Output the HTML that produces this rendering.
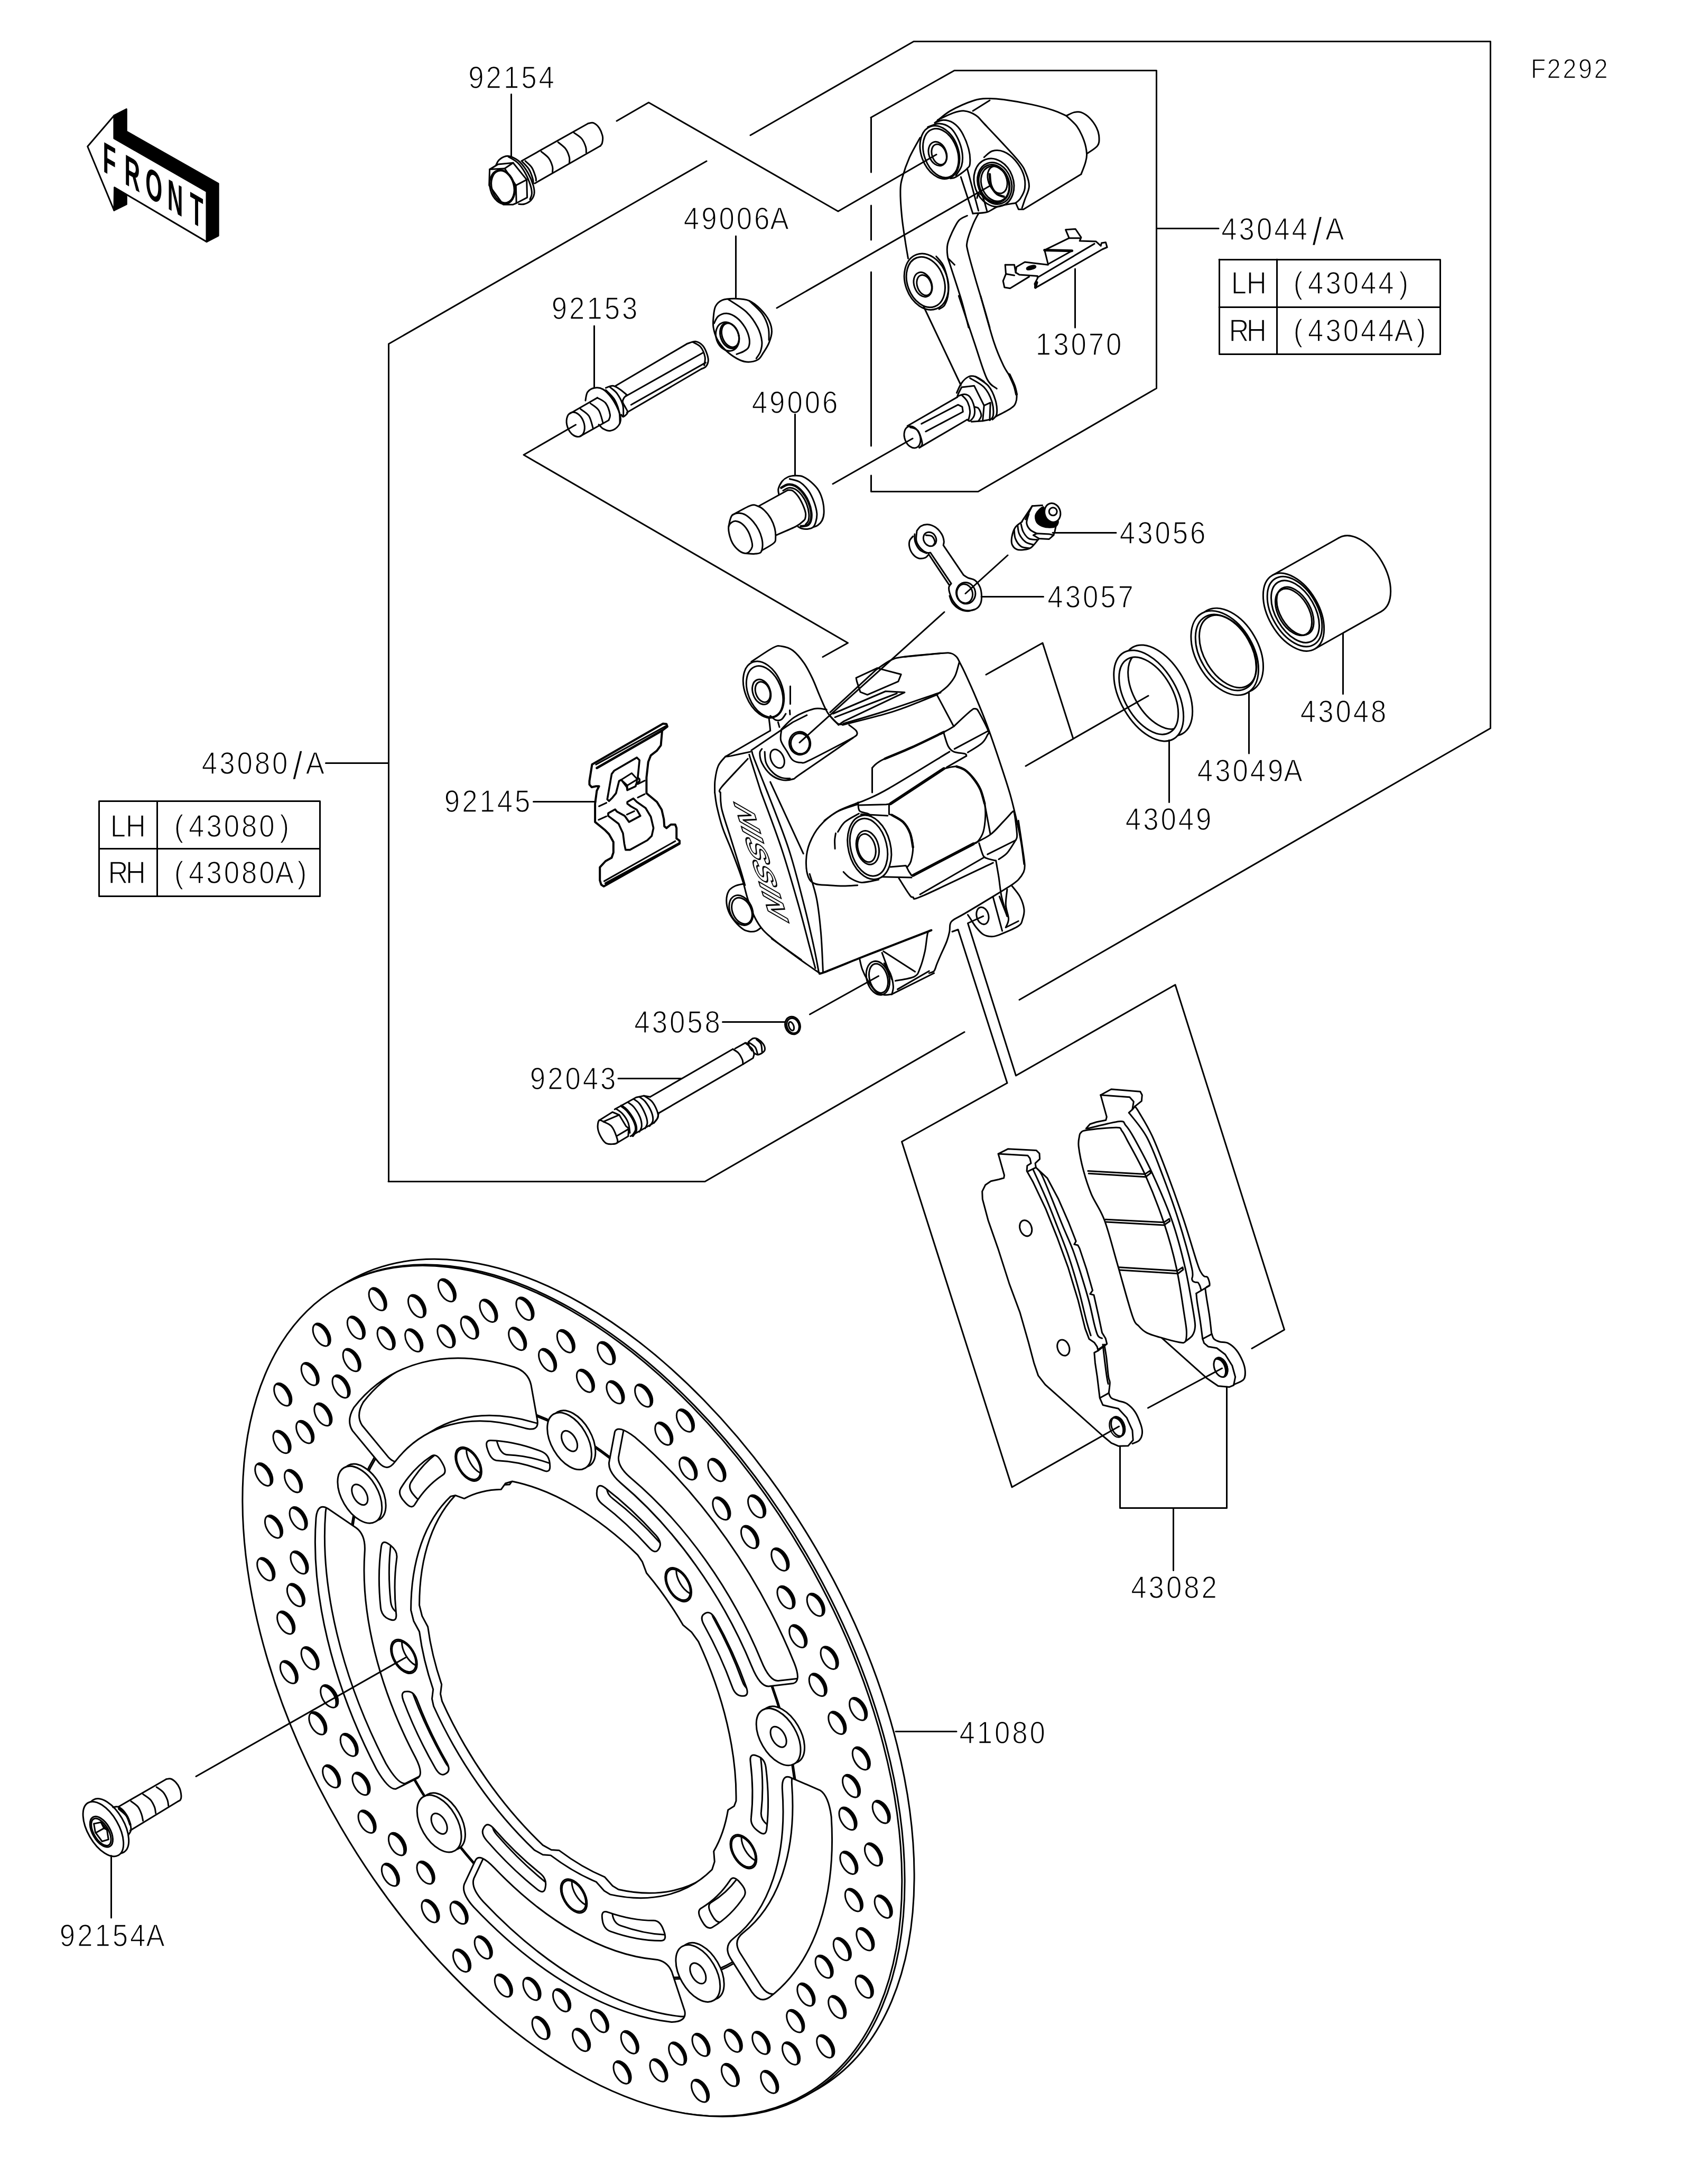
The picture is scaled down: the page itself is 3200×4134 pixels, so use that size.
<!DOCTYPE html>
<html lang="en"><head><meta charset="utf-8"><title>F2292 Front Brake</title>
<style>
html,body{margin:0;padding:0;background:#fff}
svg{display:block}
.ln{fill:none;stroke:#000;stroke-width:3;stroke-linecap:round;stroke-linejoin:round}
.t{font-family:"Liberation Sans",sans-serif;font-size:58.6px;fill:#000;stroke:#fff;stroke-width:1.5px;text-anchor:middle}
.dk path,.dk circle{vector-effect:non-scaling-stroke}
.ts{font-family:"Liberation Sans",sans-serif;font-size:52px;fill:#000;stroke:#fff;stroke-width:1.4px;text-anchor:middle}
</style></head><body>
<svg width="3200" height="4134" viewBox="0 0 3200 4134">
<rect width="3200" height="4134" fill="#fff"/>

<!-- 05_front.svg -->
<g class="ln">
<path d="M215.9,218.7 L239.3,206.6 L239.3,248.8 L413.2,347.6 L413.2,446.1 L391,457.6 L391,362.4 L215.9,262 Z" fill="#000" />
<path d="M216.6,354.7 L239.3,370.7 L239.3,386.7 L215.9,398.2 Z" fill="#000" />
<path d="M165.7,277.2 L215.9,218.7 L215.9,262 L391,362.4 L391,457.6 L216.6,354.7 L215.9,398.2 Z" fill="#fff" />
<text transform="translate(197.1,325.5) skewY(30) scale(0.5,1)" x="19.6 106.4 188.2 269.0 349.6" y="0" style="font-family:'Liberation Sans',sans-serif;font-weight:bold;font-size:82px;fill:#000;stroke:none;text-anchor:middle">FRONT</text>
</g>

<!-- 10_disc.svg -->
<g class="ln" style="vector-effect:non-scaling-stroke" transform="matrix(0.8733,0.4984,0.0043,1.007,1085.5,3200.0)">
<g class="dk">
<circle r="717.5" cx="20.71" cy="-20.58" fill="#fff"/>
<circle r="717.5" fill="#fff"/>
<clipPath id="dcf"><circle r="717.5"/></clipPath><g clip-path="url(#dcf)"><circle r="716.5" cx="-5.05" cy="3.20"/></g>
<path fill="#000" stroke="none" d="M612.2,155.0 a19,19 0 1 0 38,0 a19,19 0 1 0 -38,0 Z M587.9,93.4 a19,19 0 1 0 38,0 a19,19 0 1 0 -38,0 Z M562.1,198.4 a19,19 0 1 0 38,0 a19,19 0 1 0 -38,0 Z M609.9,245.2 a19,19 0 1 0 38,0 a19,19 0 1 0 -38,0 Z M550.6,313.1 a19,19 0 1 0 38,0 a19,19 0 1 0 -38,0 Z M522.7,250.9 a19,19 0 1 0 38,0 a19,19 0 1 0 -38,0 Z M483.1,323.0 a19,19 0 1 0 38,0 a19,19 0 1 0 -38,0 Z M525.0,399.6 a19,19 0 1 0 38,0 a19,19 0 1 0 -38,0 Z M450.1,449.9 a19,19 0 1 0 38,0 a19,19 0 1 0 -38,0 Z M459.8,384.3 a19,19 0 1 0 38,0 a19,19 0 1 0 -38,0 Z M385.0,462.3 a19,19 0 1 0 38,0 a19,19 0 1 0 -38,0 Z M403.0,526.8 a19,19 0 1 0 38,0 a19,19 0 1 0 -38,0 Z M317.7,556.0 a19,19 0 1 0 38,0 a19,19 0 1 0 -38,0 Z M324.7,488.1 a19,19 0 1 0 38,0 a19,19 0 1 0 -38,0 Z M254.4,530.7 a19,19 0 1 0 38,0 a19,19 0 1 0 -38,0 Z M252.3,618.1 a19,19 0 1 0 38,0 a19,19 0 1 0 -38,0 Z M162.3,624.2 a19,19 0 1 0 38,0 a19,19 0 1 0 -38,0 Z M203.5,572.3 a19,19 0 1 0 38,0 a19,19 0 1 0 -38,0 Z M99.7,602.4 a19,19 0 1 0 38,0 a19,19 0 1 0 -38,0 Z M83.1,667.2 a19,19 0 1 0 38,0 a19,19 0 1 0 -38,0 Z M-5.4,649.9 a19,19 0 1 0 38,0 a19,19 0 1 0 -38,0 Z M34.6,594.6 a19,19 0 1 0 38,0 a19,19 0 1 0 -38,0 Z M-47.6,596.3 a19,19 0 1 0 38,0 a19,19 0 1 0 -38,0 Z M-93.1,670.9 a19,19 0 1 0 38,0 a19,19 0 1 0 -38,0 Z M-174.0,631.2 a19,19 0 1 0 38,0 a19,19 0 1 0 -38,0 Z M-112.4,606.9 a19,19 0 1 0 38,0 a19,19 0 1 0 -38,0 Z M-217.4,581.1 a19,19 0 1 0 38,0 a19,19 0 1 0 -38,0 Z M-264.2,628.9 a19,19 0 1 0 38,0 a19,19 0 1 0 -38,0 Z M-332.1,569.6 a19,19 0 1 0 38,0 a19,19 0 1 0 -38,0 Z M-269.9,541.7 a19,19 0 1 0 38,0 a19,19 0 1 0 -38,0 Z M-342.0,502.1 a19,19 0 1 0 38,0 a19,19 0 1 0 -38,0 Z M-418.6,544.0 a19,19 0 1 0 38,0 a19,19 0 1 0 -38,0 Z M-468.9,469.1 a19,19 0 1 0 38,0 a19,19 0 1 0 -38,0 Z M-403.3,478.8 a19,19 0 1 0 38,0 a19,19 0 1 0 -38,0 Z M-481.3,404.0 a19,19 0 1 0 38,0 a19,19 0 1 0 -38,0 Z M-545.8,422.0 a19,19 0 1 0 38,0 a19,19 0 1 0 -38,0 Z M-575.0,336.7 a19,19 0 1 0 38,0 a19,19 0 1 0 -38,0 Z M-507.1,343.7 a19,19 0 1 0 38,0 a19,19 0 1 0 -38,0 Z M-549.7,273.4 a19,19 0 1 0 38,0 a19,19 0 1 0 -38,0 Z M-637.1,271.3 a19,19 0 1 0 38,0 a19,19 0 1 0 -38,0 Z M-643.2,181.3 a19,19 0 1 0 38,0 a19,19 0 1 0 -38,0 Z M-591.3,222.5 a19,19 0 1 0 38,0 a19,19 0 1 0 -38,0 Z M-621.4,118.7 a19,19 0 1 0 38,0 a19,19 0 1 0 -38,0 Z M-686.2,102.1 a19,19 0 1 0 38,0 a19,19 0 1 0 -38,0 Z M-668.9,13.6 a19,19 0 1 0 38,0 a19,19 0 1 0 -38,0 Z M-613.6,53.6 a19,19 0 1 0 38,0 a19,19 0 1 0 -38,0 Z M-615.3,-28.6 a19,19 0 1 0 38,0 a19,19 0 1 0 -38,0 Z M-689.9,-74.1 a19,19 0 1 0 38,0 a19,19 0 1 0 -38,0 Z M-650.2,-155.0 a19,19 0 1 0 38,0 a19,19 0 1 0 -38,0 Z M-625.9,-93.4 a19,19 0 1 0 38,0 a19,19 0 1 0 -38,0 Z M-600.1,-198.4 a19,19 0 1 0 38,0 a19,19 0 1 0 -38,0 Z M-647.9,-245.2 a19,19 0 1 0 38,0 a19,19 0 1 0 -38,0 Z M-588.6,-313.1 a19,19 0 1 0 38,0 a19,19 0 1 0 -38,0 Z M-560.7,-250.9 a19,19 0 1 0 38,0 a19,19 0 1 0 -38,0 Z M-521.1,-323.0 a19,19 0 1 0 38,0 a19,19 0 1 0 -38,0 Z M-563.0,-399.6 a19,19 0 1 0 38,0 a19,19 0 1 0 -38,0 Z M-488.1,-449.9 a19,19 0 1 0 38,0 a19,19 0 1 0 -38,0 Z M-497.8,-384.3 a19,19 0 1 0 38,0 a19,19 0 1 0 -38,0 Z M-423.0,-462.3 a19,19 0 1 0 38,0 a19,19 0 1 0 -38,0 Z M-441.0,-526.8 a19,19 0 1 0 38,0 a19,19 0 1 0 -38,0 Z M-355.7,-556.0 a19,19 0 1 0 38,0 a19,19 0 1 0 -38,0 Z M-362.7,-488.1 a19,19 0 1 0 38,0 a19,19 0 1 0 -38,0 Z M-292.4,-530.7 a19,19 0 1 0 38,0 a19,19 0 1 0 -38,0 Z M-290.3,-618.1 a19,19 0 1 0 38,0 a19,19 0 1 0 -38,0 Z M-200.3,-624.2 a19,19 0 1 0 38,0 a19,19 0 1 0 -38,0 Z M-241.5,-572.3 a19,19 0 1 0 38,0 a19,19 0 1 0 -38,0 Z M-137.7,-602.4 a19,19 0 1 0 38,0 a19,19 0 1 0 -38,0 Z M-121.1,-667.2 a19,19 0 1 0 38,0 a19,19 0 1 0 -38,0 Z M-32.6,-649.9 a19,19 0 1 0 38,0 a19,19 0 1 0 -38,0 Z M-72.6,-594.6 a19,19 0 1 0 38,0 a19,19 0 1 0 -38,0 Z M9.6,-596.3 a19,19 0 1 0 38,0 a19,19 0 1 0 -38,0 Z M55.1,-670.9 a19,19 0 1 0 38,0 a19,19 0 1 0 -38,0 Z M136.0,-631.2 a19,19 0 1 0 38,0 a19,19 0 1 0 -38,0 Z M74.4,-606.9 a19,19 0 1 0 38,0 a19,19 0 1 0 -38,0 Z M179.4,-581.1 a19,19 0 1 0 38,0 a19,19 0 1 0 -38,0 Z M226.2,-628.9 a19,19 0 1 0 38,0 a19,19 0 1 0 -38,0 Z M294.1,-569.6 a19,19 0 1 0 38,0 a19,19 0 1 0 -38,0 Z M231.9,-541.7 a19,19 0 1 0 38,0 a19,19 0 1 0 -38,0 Z M304.0,-502.1 a19,19 0 1 0 38,0 a19,19 0 1 0 -38,0 Z M380.6,-544.0 a19,19 0 1 0 38,0 a19,19 0 1 0 -38,0 Z M430.9,-469.1 a19,19 0 1 0 38,0 a19,19 0 1 0 -38,0 Z M365.3,-478.8 a19,19 0 1 0 38,0 a19,19 0 1 0 -38,0 Z M443.3,-404.0 a19,19 0 1 0 38,0 a19,19 0 1 0 -38,0 Z M507.8,-422.0 a19,19 0 1 0 38,0 a19,19 0 1 0 -38,0 Z M537.0,-336.7 a19,19 0 1 0 38,0 a19,19 0 1 0 -38,0 Z M469.1,-343.7 a19,19 0 1 0 38,0 a19,19 0 1 0 -38,0 Z M511.7,-273.4 a19,19 0 1 0 38,0 a19,19 0 1 0 -38,0 Z M599.1,-271.3 a19,19 0 1 0 38,0 a19,19 0 1 0 -38,0 Z M605.2,-181.3 a19,19 0 1 0 38,0 a19,19 0 1 0 -38,0 Z M553.3,-222.5 a19,19 0 1 0 38,0 a19,19 0 1 0 -38,0 Z M583.4,-118.7 a19,19 0 1 0 38,0 a19,19 0 1 0 -38,0 Z M648.2,-102.1 a19,19 0 1 0 38,0 a19,19 0 1 0 -38,0 Z M630.9,-13.6 a19,19 0 1 0 38,0 a19,19 0 1 0 -38,0 Z M575.6,-53.6 a19,19 0 1 0 38,0 a19,19 0 1 0 -38,0 Z M577.3,28.6 a19,19 0 1 0 38,0 a19,19 0 1 0 -38,0 Z M651.9,74.1 a19,19 0 1 0 38,0 a19,19 0 1 0 -38,0 Z"/>
<path fill="#fff" stroke="none" d="M606.3,161.4 a19,19 0 1 0 38,0 a19,19 0 1 0 -38,0 Z M581.9,99.7 a19,19 0 1 0 38,0 a19,19 0 1 0 -38,0 Z M556.1,204.7 a19,19 0 1 0 38,0 a19,19 0 1 0 -38,0 Z M603.9,251.5 a19,19 0 1 0 38,0 a19,19 0 1 0 -38,0 Z M544.6,319.5 a19,19 0 1 0 38,0 a19,19 0 1 0 -38,0 Z M516.7,257.2 a19,19 0 1 0 38,0 a19,19 0 1 0 -38,0 Z M477.1,329.3 a19,19 0 1 0 38,0 a19,19 0 1 0 -38,0 Z M519.0,405.9 a19,19 0 1 0 38,0 a19,19 0 1 0 -38,0 Z M444.2,456.2 a19,19 0 1 0 38,0 a19,19 0 1 0 -38,0 Z M453.9,390.7 a19,19 0 1 0 38,0 a19,19 0 1 0 -38,0 Z M379.0,468.7 a19,19 0 1 0 38,0 a19,19 0 1 0 -38,0 Z M397.1,533.1 a19,19 0 1 0 38,0 a19,19 0 1 0 -38,0 Z M311.7,562.3 a19,19 0 1 0 38,0 a19,19 0 1 0 -38,0 Z M318.7,494.5 a19,19 0 1 0 38,0 a19,19 0 1 0 -38,0 Z M248.4,537.1 a19,19 0 1 0 38,0 a19,19 0 1 0 -38,0 Z M246.3,624.4 a19,19 0 1 0 38,0 a19,19 0 1 0 -38,0 Z M156.4,630.5 a19,19 0 1 0 38,0 a19,19 0 1 0 -38,0 Z M197.6,578.6 a19,19 0 1 0 38,0 a19,19 0 1 0 -38,0 Z M93.7,608.7 a19,19 0 1 0 38,0 a19,19 0 1 0 -38,0 Z M77.1,673.6 a19,19 0 1 0 38,0 a19,19 0 1 0 -38,0 Z M-11.4,656.2 a19,19 0 1 0 38,0 a19,19 0 1 0 -38,0 Z M28.6,600.9 a19,19 0 1 0 38,0 a19,19 0 1 0 -38,0 Z M-53.6,602.7 a19,19 0 1 0 38,0 a19,19 0 1 0 -38,0 Z M-99.1,677.3 a19,19 0 1 0 38,0 a19,19 0 1 0 -38,0 Z M-180.0,637.6 a19,19 0 1 0 38,0 a19,19 0 1 0 -38,0 Z M-118.4,613.2 a19,19 0 1 0 38,0 a19,19 0 1 0 -38,0 Z M-223.4,587.4 a19,19 0 1 0 38,0 a19,19 0 1 0 -38,0 Z M-270.2,635.2 a19,19 0 1 0 38,0 a19,19 0 1 0 -38,0 Z M-338.1,575.9 a19,19 0 1 0 38,0 a19,19 0 1 0 -38,0 Z M-275.9,548.1 a19,19 0 1 0 38,0 a19,19 0 1 0 -38,0 Z M-347.9,508.4 a19,19 0 1 0 38,0 a19,19 0 1 0 -38,0 Z M-424.6,550.3 a19,19 0 1 0 38,0 a19,19 0 1 0 -38,0 Z M-474.9,475.5 a19,19 0 1 0 38,0 a19,19 0 1 0 -38,0 Z M-409.3,485.2 a19,19 0 1 0 38,0 a19,19 0 1 0 -38,0 Z M-487.3,410.4 a19,19 0 1 0 38,0 a19,19 0 1 0 -38,0 Z M-551.8,428.4 a19,19 0 1 0 38,0 a19,19 0 1 0 -38,0 Z M-581.0,343.1 a19,19 0 1 0 38,0 a19,19 0 1 0 -38,0 Z M-513.1,350.0 a19,19 0 1 0 38,0 a19,19 0 1 0 -38,0 Z M-555.7,279.7 a19,19 0 1 0 38,0 a19,19 0 1 0 -38,0 Z M-643.1,277.7 a19,19 0 1 0 38,0 a19,19 0 1 0 -38,0 Z M-649.2,187.7 a19,19 0 1 0 38,0 a19,19 0 1 0 -38,0 Z M-597.2,228.9 a19,19 0 1 0 38,0 a19,19 0 1 0 -38,0 Z M-627.4,125.1 a19,19 0 1 0 38,0 a19,19 0 1 0 -38,0 Z M-692.2,108.4 a19,19 0 1 0 38,0 a19,19 0 1 0 -38,0 Z M-674.8,20.0 a19,19 0 1 0 38,0 a19,19 0 1 0 -38,0 Z M-619.6,59.9 a19,19 0 1 0 38,0 a19,19 0 1 0 -38,0 Z M-621.3,-22.3 a19,19 0 1 0 38,0 a19,19 0 1 0 -38,0 Z M-695.9,-67.7 a19,19 0 1 0 38,0 a19,19 0 1 0 -38,0 Z M-656.2,-148.7 a19,19 0 1 0 38,0 a19,19 0 1 0 -38,0 Z M-631.8,-87.1 a19,19 0 1 0 38,0 a19,19 0 1 0 -38,0 Z M-606.1,-192.0 a19,19 0 1 0 38,0 a19,19 0 1 0 -38,0 Z M-653.9,-238.9 a19,19 0 1 0 38,0 a19,19 0 1 0 -38,0 Z M-594.6,-306.8 a19,19 0 1 0 38,0 a19,19 0 1 0 -38,0 Z M-566.7,-244.5 a19,19 0 1 0 38,0 a19,19 0 1 0 -38,0 Z M-527.1,-316.6 a19,19 0 1 0 38,0 a19,19 0 1 0 -38,0 Z M-569.0,-393.3 a19,19 0 1 0 38,0 a19,19 0 1 0 -38,0 Z M-494.1,-443.6 a19,19 0 1 0 38,0 a19,19 0 1 0 -38,0 Z M-503.8,-378.0 a19,19 0 1 0 38,0 a19,19 0 1 0 -38,0 Z M-429.0,-456.0 a19,19 0 1 0 38,0 a19,19 0 1 0 -38,0 Z M-447.0,-520.5 a19,19 0 1 0 38,0 a19,19 0 1 0 -38,0 Z M-361.7,-549.6 a19,19 0 1 0 38,0 a19,19 0 1 0 -38,0 Z M-368.7,-481.8 a19,19 0 1 0 38,0 a19,19 0 1 0 -38,0 Z M-298.3,-524.4 a19,19 0 1 0 38,0 a19,19 0 1 0 -38,0 Z M-296.3,-611.7 a19,19 0 1 0 38,0 a19,19 0 1 0 -38,0 Z M-206.3,-617.9 a19,19 0 1 0 38,0 a19,19 0 1 0 -38,0 Z M-247.5,-565.9 a19,19 0 1 0 38,0 a19,19 0 1 0 -38,0 Z M-143.7,-596.1 a19,19 0 1 0 38,0 a19,19 0 1 0 -38,0 Z M-127.1,-660.9 a19,19 0 1 0 38,0 a19,19 0 1 0 -38,0 Z M-38.6,-643.5 a19,19 0 1 0 38,0 a19,19 0 1 0 -38,0 Z M-78.6,-588.3 a19,19 0 1 0 38,0 a19,19 0 1 0 -38,0 Z M3.7,-590.0 a19,19 0 1 0 38,0 a19,19 0 1 0 -38,0 Z M49.1,-664.6 a19,19 0 1 0 38,0 a19,19 0 1 0 -38,0 Z M130.1,-624.9 a19,19 0 1 0 38,0 a19,19 0 1 0 -38,0 Z M68.4,-600.5 a19,19 0 1 0 38,0 a19,19 0 1 0 -38,0 Z M173.4,-574.7 a19,19 0 1 0 38,0 a19,19 0 1 0 -38,0 Z M220.2,-622.6 a19,19 0 1 0 38,0 a19,19 0 1 0 -38,0 Z M288.2,-563.3 a19,19 0 1 0 38,0 a19,19 0 1 0 -38,0 Z M225.9,-535.4 a19,19 0 1 0 38,0 a19,19 0 1 0 -38,0 Z M298.0,-495.8 a19,19 0 1 0 38,0 a19,19 0 1 0 -38,0 Z M374.6,-537.7 a19,19 0 1 0 38,0 a19,19 0 1 0 -38,0 Z M424.9,-462.8 a19,19 0 1 0 38,0 a19,19 0 1 0 -38,0 Z M359.3,-472.5 a19,19 0 1 0 38,0 a19,19 0 1 0 -38,0 Z M437.3,-397.7 a19,19 0 1 0 38,0 a19,19 0 1 0 -38,0 Z M501.8,-415.7 a19,19 0 1 0 38,0 a19,19 0 1 0 -38,0 Z M531.0,-330.4 a19,19 0 1 0 38,0 a19,19 0 1 0 -38,0 Z M463.1,-337.4 a19,19 0 1 0 38,0 a19,19 0 1 0 -38,0 Z M505.8,-267.0 a19,19 0 1 0 38,0 a19,19 0 1 0 -38,0 Z M593.1,-265.0 a19,19 0 1 0 38,0 a19,19 0 1 0 -38,0 Z M599.2,-175.0 a19,19 0 1 0 38,0 a19,19 0 1 0 -38,0 Z M547.3,-216.2 a19,19 0 1 0 38,0 a19,19 0 1 0 -38,0 Z M577.4,-112.4 a19,19 0 1 0 38,0 a19,19 0 1 0 -38,0 Z M642.2,-95.8 a19,19 0 1 0 38,0 a19,19 0 1 0 -38,0 Z M624.9,-7.3 a19,19 0 1 0 38,0 a19,19 0 1 0 -38,0 Z M569.6,-47.2 a19,19 0 1 0 38,0 a19,19 0 1 0 -38,0 Z M571.3,35.0 a19,19 0 1 0 38,0 a19,19 0 1 0 -38,0 Z M645.9,80.4 a19,19 0 1 0 38,0 a19,19 0 1 0 -38,0 Z"/>
<path d="M612.2,155.0 a19,19 0 1 0 38,0 a19,19 0 1 0 -38,0 Z M587.9,93.4 a19,19 0 1 0 38,0 a19,19 0 1 0 -38,0 Z M562.1,198.4 a19,19 0 1 0 38,0 a19,19 0 1 0 -38,0 Z M609.9,245.2 a19,19 0 1 0 38,0 a19,19 0 1 0 -38,0 Z M550.6,313.1 a19,19 0 1 0 38,0 a19,19 0 1 0 -38,0 Z M522.7,250.9 a19,19 0 1 0 38,0 a19,19 0 1 0 -38,0 Z M483.1,323.0 a19,19 0 1 0 38,0 a19,19 0 1 0 -38,0 Z M525.0,399.6 a19,19 0 1 0 38,0 a19,19 0 1 0 -38,0 Z M450.1,449.9 a19,19 0 1 0 38,0 a19,19 0 1 0 -38,0 Z M459.8,384.3 a19,19 0 1 0 38,0 a19,19 0 1 0 -38,0 Z M385.0,462.3 a19,19 0 1 0 38,0 a19,19 0 1 0 -38,0 Z M403.0,526.8 a19,19 0 1 0 38,0 a19,19 0 1 0 -38,0 Z M317.7,556.0 a19,19 0 1 0 38,0 a19,19 0 1 0 -38,0 Z M324.7,488.1 a19,19 0 1 0 38,0 a19,19 0 1 0 -38,0 Z M254.4,530.7 a19,19 0 1 0 38,0 a19,19 0 1 0 -38,0 Z M252.3,618.1 a19,19 0 1 0 38,0 a19,19 0 1 0 -38,0 Z M162.3,624.2 a19,19 0 1 0 38,0 a19,19 0 1 0 -38,0 Z M203.5,572.3 a19,19 0 1 0 38,0 a19,19 0 1 0 -38,0 Z M99.7,602.4 a19,19 0 1 0 38,0 a19,19 0 1 0 -38,0 Z M83.1,667.2 a19,19 0 1 0 38,0 a19,19 0 1 0 -38,0 Z M-5.4,649.9 a19,19 0 1 0 38,0 a19,19 0 1 0 -38,0 Z M34.6,594.6 a19,19 0 1 0 38,0 a19,19 0 1 0 -38,0 Z M-47.6,596.3 a19,19 0 1 0 38,0 a19,19 0 1 0 -38,0 Z M-93.1,670.9 a19,19 0 1 0 38,0 a19,19 0 1 0 -38,0 Z M-174.0,631.2 a19,19 0 1 0 38,0 a19,19 0 1 0 -38,0 Z M-112.4,606.9 a19,19 0 1 0 38,0 a19,19 0 1 0 -38,0 Z M-217.4,581.1 a19,19 0 1 0 38,0 a19,19 0 1 0 -38,0 Z M-264.2,628.9 a19,19 0 1 0 38,0 a19,19 0 1 0 -38,0 Z M-332.1,569.6 a19,19 0 1 0 38,0 a19,19 0 1 0 -38,0 Z M-269.9,541.7 a19,19 0 1 0 38,0 a19,19 0 1 0 -38,0 Z M-342.0,502.1 a19,19 0 1 0 38,0 a19,19 0 1 0 -38,0 Z M-418.6,544.0 a19,19 0 1 0 38,0 a19,19 0 1 0 -38,0 Z M-468.9,469.1 a19,19 0 1 0 38,0 a19,19 0 1 0 -38,0 Z M-403.3,478.8 a19,19 0 1 0 38,0 a19,19 0 1 0 -38,0 Z M-481.3,404.0 a19,19 0 1 0 38,0 a19,19 0 1 0 -38,0 Z M-545.8,422.0 a19,19 0 1 0 38,0 a19,19 0 1 0 -38,0 Z M-575.0,336.7 a19,19 0 1 0 38,0 a19,19 0 1 0 -38,0 Z M-507.1,343.7 a19,19 0 1 0 38,0 a19,19 0 1 0 -38,0 Z M-549.7,273.4 a19,19 0 1 0 38,0 a19,19 0 1 0 -38,0 Z M-637.1,271.3 a19,19 0 1 0 38,0 a19,19 0 1 0 -38,0 Z M-643.2,181.3 a19,19 0 1 0 38,0 a19,19 0 1 0 -38,0 Z M-591.3,222.5 a19,19 0 1 0 38,0 a19,19 0 1 0 -38,0 Z M-621.4,118.7 a19,19 0 1 0 38,0 a19,19 0 1 0 -38,0 Z M-686.2,102.1 a19,19 0 1 0 38,0 a19,19 0 1 0 -38,0 Z M-668.9,13.6 a19,19 0 1 0 38,0 a19,19 0 1 0 -38,0 Z M-613.6,53.6 a19,19 0 1 0 38,0 a19,19 0 1 0 -38,0 Z M-615.3,-28.6 a19,19 0 1 0 38,0 a19,19 0 1 0 -38,0 Z M-689.9,-74.1 a19,19 0 1 0 38,0 a19,19 0 1 0 -38,0 Z M-650.2,-155.0 a19,19 0 1 0 38,0 a19,19 0 1 0 -38,0 Z M-625.9,-93.4 a19,19 0 1 0 38,0 a19,19 0 1 0 -38,0 Z M-600.1,-198.4 a19,19 0 1 0 38,0 a19,19 0 1 0 -38,0 Z M-647.9,-245.2 a19,19 0 1 0 38,0 a19,19 0 1 0 -38,0 Z M-588.6,-313.1 a19,19 0 1 0 38,0 a19,19 0 1 0 -38,0 Z M-560.7,-250.9 a19,19 0 1 0 38,0 a19,19 0 1 0 -38,0 Z M-521.1,-323.0 a19,19 0 1 0 38,0 a19,19 0 1 0 -38,0 Z M-563.0,-399.6 a19,19 0 1 0 38,0 a19,19 0 1 0 -38,0 Z M-488.1,-449.9 a19,19 0 1 0 38,0 a19,19 0 1 0 -38,0 Z M-497.8,-384.3 a19,19 0 1 0 38,0 a19,19 0 1 0 -38,0 Z M-423.0,-462.3 a19,19 0 1 0 38,0 a19,19 0 1 0 -38,0 Z M-441.0,-526.8 a19,19 0 1 0 38,0 a19,19 0 1 0 -38,0 Z M-355.7,-556.0 a19,19 0 1 0 38,0 a19,19 0 1 0 -38,0 Z M-362.7,-488.1 a19,19 0 1 0 38,0 a19,19 0 1 0 -38,0 Z M-292.4,-530.7 a19,19 0 1 0 38,0 a19,19 0 1 0 -38,0 Z M-290.3,-618.1 a19,19 0 1 0 38,0 a19,19 0 1 0 -38,0 Z M-200.3,-624.2 a19,19 0 1 0 38,0 a19,19 0 1 0 -38,0 Z M-241.5,-572.3 a19,19 0 1 0 38,0 a19,19 0 1 0 -38,0 Z M-137.7,-602.4 a19,19 0 1 0 38,0 a19,19 0 1 0 -38,0 Z M-121.1,-667.2 a19,19 0 1 0 38,0 a19,19 0 1 0 -38,0 Z M-32.6,-649.9 a19,19 0 1 0 38,0 a19,19 0 1 0 -38,0 Z M-72.6,-594.6 a19,19 0 1 0 38,0 a19,19 0 1 0 -38,0 Z M9.6,-596.3 a19,19 0 1 0 38,0 a19,19 0 1 0 -38,0 Z M55.1,-670.9 a19,19 0 1 0 38,0 a19,19 0 1 0 -38,0 Z M136.0,-631.2 a19,19 0 1 0 38,0 a19,19 0 1 0 -38,0 Z M74.4,-606.9 a19,19 0 1 0 38,0 a19,19 0 1 0 -38,0 Z M179.4,-581.1 a19,19 0 1 0 38,0 a19,19 0 1 0 -38,0 Z M226.2,-628.9 a19,19 0 1 0 38,0 a19,19 0 1 0 -38,0 Z M294.1,-569.6 a19,19 0 1 0 38,0 a19,19 0 1 0 -38,0 Z M231.9,-541.7 a19,19 0 1 0 38,0 a19,19 0 1 0 -38,0 Z M304.0,-502.1 a19,19 0 1 0 38,0 a19,19 0 1 0 -38,0 Z M380.6,-544.0 a19,19 0 1 0 38,0 a19,19 0 1 0 -38,0 Z M430.9,-469.1 a19,19 0 1 0 38,0 a19,19 0 1 0 -38,0 Z M365.3,-478.8 a19,19 0 1 0 38,0 a19,19 0 1 0 -38,0 Z M443.3,-404.0 a19,19 0 1 0 38,0 a19,19 0 1 0 -38,0 Z M507.8,-422.0 a19,19 0 1 0 38,0 a19,19 0 1 0 -38,0 Z M537.0,-336.7 a19,19 0 1 0 38,0 a19,19 0 1 0 -38,0 Z M469.1,-343.7 a19,19 0 1 0 38,0 a19,19 0 1 0 -38,0 Z M511.7,-273.4 a19,19 0 1 0 38,0 a19,19 0 1 0 -38,0 Z M599.1,-271.3 a19,19 0 1 0 38,0 a19,19 0 1 0 -38,0 Z M605.2,-181.3 a19,19 0 1 0 38,0 a19,19 0 1 0 -38,0 Z M553.3,-222.5 a19,19 0 1 0 38,0 a19,19 0 1 0 -38,0 Z M583.4,-118.7 a19,19 0 1 0 38,0 a19,19 0 1 0 -38,0 Z M648.2,-102.1 a19,19 0 1 0 38,0 a19,19 0 1 0 -38,0 Z M630.9,-13.6 a19,19 0 1 0 38,0 a19,19 0 1 0 -38,0 Z M575.6,-53.6 a19,19 0 1 0 38,0 a19,19 0 1 0 -38,0 Z M577.3,28.6 a19,19 0 1 0 38,0 a19,19 0 1 0 -38,0 Z M651.9,74.1 a19,19 0 1 0 38,0 a19,19 0 1 0 -38,0 Z"/>
<clipPath id="dc1"><path d="M-420.1,-219.6 L-477.7,-251.8 Q-491.8,-263.7 -474.9,-296.8 A560,560 0 0 1 -126.0,-545.6 Q-96.3,-551.7 -89.7,-530.5 L-76.1,-469.9 Q-72.7,-449.1 -106.0,-441.5 A454,454 0 0 0 -387.5,-236.5 Q-402.5,-212.2 -420.1,-219.6 Z"/></clipPath><g clip-path="url(#dc1)"><path d="M-420.1,-219.6 L-477.7,-251.8 Q-491.8,-263.7 -474.9,-296.8 A560,560 0 0 1 -126.0,-545.6 Q-96.3,-551.7 -89.7,-530.5 L-76.1,-469.9 Q-72.7,-449.1 -106.0,-441.5 A454,454 0 0 0 -387.5,-236.5 Q-402.5,-212.2 -420.1,-219.6 Z" transform="translate(20.71,-20.58)"/></g><path d="M-420.1,-219.6 L-477.7,-251.8 Q-491.8,-263.7 -474.9,-296.8 A560,560 0 0 1 -126.0,-545.6 Q-96.3,-551.7 -89.7,-530.5 L-76.1,-469.9 Q-72.7,-449.1 -106.0,-441.5 A454,454 0 0 0 -387.5,-236.5 Q-402.5,-212.2 -420.1,-219.6 Z"/>
<path d="M-77.3,-477.0 A483.2,483.2 0 0 1 80.6,-476.4"/>
<path d="M-77.7,-479.7 A486,486 0 0 1 81.0,-479.2"/>
<clipPath id="dc2"><path d="M79.0,-467.4 L91.9,-532.1 Q98.8,-549.2 135.5,-543.4 A560,560 0 0 1 480.0,-288.4 Q494.9,-262.0 476.8,-249.3 L423.4,-217.6 Q404.7,-208.0 387.1,-237.2 A454,454 0 0 0 105.2,-441.6 Q77.4,-448.4 79.0,-467.4 Z"/></clipPath><g clip-path="url(#dc2)"><path d="M79.0,-467.4 L91.9,-532.1 Q98.8,-549.2 135.5,-543.4 A560,560 0 0 1 480.0,-288.4 Q494.9,-262.0 476.8,-249.3 L423.4,-217.6 Q404.7,-208.0 387.1,-237.2 A454,454 0 0 0 105.2,-441.6 Q77.4,-448.4 79.0,-467.4 Z" transform="translate(20.71,-20.58)"/></g><path d="M79.0,-467.4 L91.9,-532.1 Q98.8,-549.2 135.5,-543.4 A560,560 0 0 1 480.0,-288.4 Q494.9,-262.0 476.8,-249.3 L423.4,-217.6 Q404.7,-208.0 387.1,-237.2 A454,454 0 0 0 105.2,-441.6 Q77.4,-448.4 79.0,-467.4 Z"/>
<path d="M429.8,-220.9 A483.2,483.2 0 0 1 478.0,-70.6"/>
<path d="M432.3,-222.1 A486,486 0 0 1 480.8,-71.0"/>
<clipPath id="dc3"><path d="M468.9,-69.2 L534.5,-77.0 Q552.8,-75.7 558.6,-39.1 A560,560 0 0 1 422.6,367.4 Q402.2,389.7 384.4,376.4 L337.8,335.4 Q322.9,320.6 345.2,294.8 A454,454 0 0 0 452.5,-36.4 Q450.3,-64.9 468.9,-69.2 Z"/></clipPath><g clip-path="url(#dc3)"><path d="M468.9,-69.2 L534.5,-77.0 Q552.8,-75.7 558.6,-39.1 A560,560 0 0 1 422.6,367.4 Q402.2,389.7 384.4,376.4 L337.8,335.4 Q322.9,320.6 345.2,294.8 A454,454 0 0 0 452.5,-36.4 Q450.3,-64.9 468.9,-69.2 Z" transform="translate(20.71,-20.58)"/></g><path d="M468.9,-69.2 L534.5,-77.0 Q552.8,-75.7 558.6,-39.1 A560,560 0 0 1 422.6,367.4 Q402.2,389.7 384.4,376.4 L337.8,335.4 Q322.9,320.6 345.2,294.8 A454,454 0 0 0 452.5,-36.4 Q450.3,-64.9 468.9,-69.2 Z"/>
<path d="M342.9,340.5 A483.2,483.2 0 0 1 214.8,432.8"/>
<path d="M344.9,342.5 A486,486 0 0 1 216.1,435.3"/>
<clipPath id="dc4"><path d="M210.8,424.6 L238.4,484.5 Q242.9,502.4 209.8,519.2 A560,560 0 0 1 -218.8,515.5 Q-246.4,502.9 -239.2,481.9 L-214.6,424.9 Q-205.1,406.1 -173.7,419.4 A454,454 0 0 0 174.5,419.1 Q200.9,408.3 210.8,424.6 Z"/></clipPath><g clip-path="url(#dc4)"><path d="M210.8,424.6 L238.4,484.5 Q242.9,502.4 209.8,519.2 A560,560 0 0 1 -218.8,515.5 Q-246.4,502.9 -239.2,481.9 L-214.6,424.9 Q-205.1,406.1 -173.7,419.4 A454,454 0 0 0 174.5,419.1 Q200.9,408.3 210.8,424.6 Z" transform="translate(20.71,-20.58)"/></g><path d="M210.8,424.6 L238.4,484.5 Q242.9,502.4 209.8,519.2 A560,560 0 0 1 -218.8,515.5 Q-246.4,502.9 -239.2,481.9 L-214.6,424.9 Q-205.1,406.1 -173.7,419.4 A454,454 0 0 0 174.5,419.1 Q200.9,408.3 210.8,424.6 Z"/>
<path d="M-217.9,431.3 A483.2,483.2 0 0 1 -345.2,338.1"/>
<path d="M-219.1,433.8 A486,486 0 0 1 -347.2,340.0"/>
<clipPath id="dc5"><path d="M-338.7,331.6 L-387.1,376.5 Q-402.7,386.2 -429.0,360.0 A560,560 0 0 1 -557.9,-48.8 Q-554.4,-78.9 -532.2,-78.6 L-470.4,-72.8 Q-449.6,-69.6 -452.6,-35.6 A454,454 0 0 0 -344.7,295.5 Q-326.2,317.2 -338.7,331.6 Z"/></clipPath><g clip-path="url(#dc5)"><path d="M-338.7,331.6 L-387.1,376.5 Q-402.7,386.2 -429.0,360.0 A560,560 0 0 1 -557.9,-48.8 Q-554.4,-78.9 -532.2,-78.6 L-470.4,-72.8 Q-449.6,-69.6 -452.6,-35.6 A454,454 0 0 0 -344.7,295.5 Q-326.2,317.2 -338.7,331.6 Z" transform="translate(20.71,-20.58)"/></g><path d="M-338.7,331.6 L-387.1,376.5 Q-402.7,386.2 -429.0,360.0 A560,560 0 0 1 -557.9,-48.8 Q-554.4,-78.9 -532.2,-78.6 L-470.4,-72.8 Q-449.6,-69.6 -452.6,-35.6 A454,454 0 0 0 -344.7,295.5 Q-326.2,317.2 -338.7,331.6 Z"/>
<path d="M-477.5,-73.9 A483.2,483.2 0 0 1 -428.2,-223.9"/>
<path d="M-480.3,-74.4 A486,486 0 0 1 -430.7,-225.2"/>
<clipPath id="dc6"><path d="M-363.9,-173.2 L-366.6,-174.5 Q-380.6,-181.1 -373.7,-195.0 A421.5,421.5 0 0 1 -306.5,-289.3 Q-295.7,-300.4 -284.8,-289.3 L-282.7,-287.2 Q-271.8,-276.1 -282.7,-265.1 A387.5,387.5 0 0 0 -343.0,-180.4 Q-349.9,-166.5 -363.9,-173.2 Z"/></clipPath><g clip-path="url(#dc6)"><path d="M-363.9,-173.2 L-366.6,-174.5 Q-380.6,-181.1 -373.7,-195.0 A421.5,421.5 0 0 1 -306.5,-289.3 Q-295.7,-300.4 -284.8,-289.3 L-282.7,-287.2 Q-271.8,-276.1 -282.7,-265.1 A387.5,387.5 0 0 0 -343.0,-180.4 Q-349.9,-166.5 -363.9,-173.2 Z" transform="translate(21.86,-21.74)"/></g><path d="M-363.9,-173.2 L-366.6,-174.5 Q-380.6,-181.1 -373.7,-195.0 A421.5,421.5 0 0 1 -306.5,-289.3 Q-295.7,-300.4 -284.8,-289.3 L-282.7,-287.2 Q-271.8,-276.1 -282.7,-265.1 A387.5,387.5 0 0 0 -343.0,-180.4 Q-349.9,-166.5 -363.9,-173.2 Z"/>
<clipPath id="dc7"><path d="M-183.3,-358.9 L-184.6,-361.6 Q-191.7,-375.4 -177.8,-382.2 A421.5,421.5 0 0 1 -67.1,-416.1 Q-51.7,-418.3 -49.8,-402.9 L-49.5,-400.0 Q-47.6,-384.6 -62.9,-382.4 A387.5,387.5 0 0 0 -162.3,-351.9 Q-176.2,-345.1 -183.3,-358.9 Z"/></clipPath><g clip-path="url(#dc7)"><path d="M-183.3,-358.9 L-184.6,-361.6 Q-191.7,-375.4 -177.8,-382.2 A421.5,421.5 0 0 1 -67.1,-416.1 Q-51.7,-418.3 -49.8,-402.9 L-49.5,-400.0 Q-47.6,-384.6 -62.9,-382.4 A387.5,387.5 0 0 0 -162.3,-351.9 Q-176.2,-345.1 -183.3,-358.9 Z" transform="translate(21.86,-21.74)"/></g><path d="M-183.3,-358.9 L-184.6,-361.6 Q-191.7,-375.4 -177.8,-382.2 A421.5,421.5 0 0 1 -67.1,-416.1 Q-51.7,-418.3 -49.8,-402.9 L-49.5,-400.0 Q-47.6,-384.6 -62.9,-382.4 A387.5,387.5 0 0 0 -162.3,-351.9 Q-176.2,-345.1 -183.3,-358.9 Z"/>
<clipPath id="dc8"><path d="M-254.8,-313.7 a28.5,28.5 0 1 0 57.0,0 a28.5,28.5 0 1 0 -57.0,0 Z"/></clipPath><g clip-path="url(#dc8)"><path d="M-254.8,-313.7 a28.5,28.5 0 1 0 57.0,0 a28.5,28.5 0 1 0 -57.0,0 Z" transform="translate(24.17,-24.37)"/></g><path d="M-254.8,-313.7 a28.5,28.5 0 1 0 57.0,0 a28.5,28.5 0 1 0 -57.0,0 Z"/>
<path d="M-252.3,-313.7 a26,26 0 1 0 52,0 a26,26 0 1 0 -52,0 Z"/>
<clipPath id="dc9"><path d="M52.3,-399.6 L52.6,-402.6 Q54.7,-417.9 70.0,-415.7 A421.5,421.5 0 0 1 180.4,-380.9 Q194.3,-374.0 187.2,-360.3 L185.8,-357.6 Q178.6,-343.9 164.7,-350.7 A387.5,387.5 0 0 0 65.6,-381.9 Q50.2,-384.2 52.3,-399.6 Z"/></clipPath><g clip-path="url(#dc9)"><path d="M52.3,-399.6 L52.6,-402.6 Q54.7,-417.9 70.0,-415.7 A421.5,421.5 0 0 1 180.4,-380.9 Q194.3,-374.0 187.2,-360.3 L185.8,-357.6 Q178.6,-343.9 164.7,-350.7 A387.5,387.5 0 0 0 65.6,-381.9 Q50.2,-384.2 52.3,-399.6 Z" transform="translate(21.86,-21.74)"/></g><path d="M52.3,-399.6 L52.6,-402.6 Q54.7,-417.9 70.0,-415.7 A421.5,421.5 0 0 1 180.4,-380.9 Q194.3,-374.0 187.2,-360.3 L185.8,-357.6 Q178.6,-343.9 164.7,-350.7 A387.5,387.5 0 0 0 65.6,-381.9 Q50.2,-384.2 52.3,-399.6 Z"/>
<clipPath id="dc10"><path d="M284.7,-285.2 L286.8,-287.3 Q297.8,-298.3 308.6,-287.2 A421.5,421.5 0 0 1 375.0,-192.4 Q381.9,-178.5 367.8,-171.9 L365.1,-170.6 Q351.1,-164.1 344.2,-178.0 A387.5,387.5 0 0 0 284.5,-263.1 Q273.8,-274.2 284.7,-285.2 Z"/></clipPath><g clip-path="url(#dc10)"><path d="M284.7,-285.2 L286.8,-287.3 Q297.8,-298.3 308.6,-287.2 A421.5,421.5 0 0 1 375.0,-192.4 Q381.9,-178.5 367.8,-171.9 L365.1,-170.6 Q351.1,-164.1 344.2,-178.0 A387.5,387.5 0 0 0 284.5,-263.1 Q273.8,-274.2 284.7,-285.2 Z" transform="translate(21.86,-21.74)"/></g><path d="M284.7,-285.2 L286.8,-287.3 Q297.8,-298.3 308.6,-287.2 A421.5,421.5 0 0 1 375.0,-192.4 Q381.9,-178.5 367.8,-171.9 L365.1,-170.6 Q351.1,-164.1 344.2,-178.0 A387.5,387.5 0 0 0 284.5,-263.1 Q273.8,-274.2 284.7,-285.2 Z"/>
<clipPath id="dc11"><path d="M199.9,-312.1 a28.5,28.5 0 1 0 57.0,0 a28.5,28.5 0 1 0 -57.0,0 Z"/></clipPath><g clip-path="url(#dc11)"><path d="M199.9,-312.1 a28.5,28.5 0 1 0 57.0,0 a28.5,28.5 0 1 0 -57.0,0 Z" transform="translate(24.17,-24.37)"/></g><path d="M199.9,-312.1 a28.5,28.5 0 1 0 57.0,0 a28.5,28.5 0 1 0 -57.0,0 Z"/>
<path d="M202.4,-312.1 a26,26 0 1 0 52,0 a26,26 0 1 0 -52,0 Z"/>
<clipPath id="dc12"><path d="M396.2,-73.8 L399.1,-74.3 Q414.4,-77.2 416.9,-61.9 A421.5,421.5 0 0 1 418.0,53.9 Q415.8,69.2 400.5,66.7 L397.5,66.2 Q382.2,63.6 384.5,48.3 A387.5,387.5 0 0 0 383.5,-55.7 Q380.9,-70.9 396.2,-73.8 Z"/></clipPath><g clip-path="url(#dc12)"><path d="M396.2,-73.8 L399.1,-74.3 Q414.4,-77.2 416.9,-61.9 A421.5,421.5 0 0 1 418.0,53.9 Q415.8,69.2 400.5,66.7 L397.5,66.2 Q382.2,63.6 384.5,48.3 A387.5,387.5 0 0 0 383.5,-55.7 Q380.9,-70.9 396.2,-73.8 Z" transform="translate(21.86,-21.74)"/></g><path d="M396.2,-73.8 L399.1,-74.3 Q414.4,-77.2 416.9,-61.9 A421.5,421.5 0 0 1 418.0,53.9 Q415.8,69.2 400.5,66.7 L397.5,66.2 Q382.2,63.6 384.5,48.3 A387.5,387.5 0 0 0 383.5,-55.7 Q380.9,-70.9 396.2,-73.8 Z"/>
<clipPath id="dc13"><path d="M359.2,182.6 L361.9,184.0 Q375.7,191.0 368.4,204.7 A421.5,421.5 0 0 1 298.9,297.2 Q287.7,308.0 277.2,296.7 L275.1,294.5 Q264.5,283.2 275.6,272.4 A387.5,387.5 0 0 0 338.1,189.3 Q345.4,175.6 359.2,182.6 Z"/></clipPath><g clip-path="url(#dc13)"><path d="M359.2,182.6 L361.9,184.0 Q375.7,191.0 368.4,204.7 A421.5,421.5 0 0 1 298.9,297.2 Q287.7,308.0 277.2,296.7 L275.1,294.5 Q264.5,283.2 275.6,272.4 A387.5,387.5 0 0 0 338.1,189.3 Q345.4,175.6 359.2,182.6 Z" transform="translate(21.86,-21.74)"/></g><path d="M359.2,182.6 L361.9,184.0 Q375.7,191.0 368.4,204.7 A421.5,421.5 0 0 1 298.9,297.2 Q287.7,308.0 277.2,296.7 L275.1,294.5 Q264.5,283.2 275.6,272.4 A387.5,387.5 0 0 0 338.1,189.3 Q345.4,175.6 359.2,182.6 Z"/>
<clipPath id="dc14"><path d="M338.9,120.8 a28.5,28.5 0 1 0 57.0,0 a28.5,28.5 0 1 0 -57.0,0 Z"/></clipPath><g clip-path="url(#dc14)"><path d="M338.9,120.8 a28.5,28.5 0 1 0 57.0,0 a28.5,28.5 0 1 0 -57.0,0 Z" transform="translate(24.17,-24.37)"/></g><path d="M338.9,120.8 a28.5,28.5 0 1 0 57.0,0 a28.5,28.5 0 1 0 -57.0,0 Z"/>
<path d="M341.4,120.8 a26,26 0 1 0 52,0 a26,26 0 1 0 -52,0 Z"/>
<clipPath id="dc15"><path d="M192.6,354.0 L194.0,356.6 Q201.4,370.2 187.7,377.4 A421.5,421.5 0 0 1 77.9,414.2 Q62.7,416.8 60.4,401.5 L59.9,398.5 Q57.6,383.2 72.9,380.6 A387.5,387.5 0 0 0 171.4,347.5 Q185.2,340.4 192.6,354.0 Z"/></clipPath><g clip-path="url(#dc15)"><path d="M192.6,354.0 L194.0,356.6 Q201.4,370.2 187.7,377.4 A421.5,421.5 0 0 1 77.9,414.2 Q62.7,416.8 60.4,401.5 L59.9,398.5 Q57.6,383.2 72.9,380.6 A387.5,387.5 0 0 0 171.4,347.5 Q185.2,340.4 192.6,354.0 Z" transform="translate(21.86,-21.74)"/></g><path d="M192.6,354.0 L194.0,356.6 Q201.4,370.2 187.7,377.4 A421.5,421.5 0 0 1 77.9,414.2 Q62.7,416.8 60.4,401.5 L59.9,398.5 Q57.6,383.2 72.9,380.6 A387.5,387.5 0 0 0 171.4,347.5 Q185.2,340.4 192.6,354.0 Z"/>
<clipPath id="dc16"><path d="M-62.7,398.1 L-63.2,401.1 Q-65.6,416.4 -80.8,413.7 A421.5,421.5 0 0 1 -190.3,376.1 Q-204.0,368.8 -196.5,355.3 L-195.1,352.6 Q-187.6,339.1 -173.9,346.3 A387.5,387.5 0 0 0 -75.5,380.1 Q-60.3,382.8 -62.7,398.1 Z"/></clipPath><g clip-path="url(#dc16)"><path d="M-62.7,398.1 L-63.2,401.1 Q-65.6,416.4 -80.8,413.7 A421.5,421.5 0 0 1 -190.3,376.1 Q-204.0,368.8 -196.5,355.3 L-195.1,352.6 Q-187.6,339.1 -173.9,346.3 A387.5,387.5 0 0 0 -75.5,380.1 Q-60.3,382.8 -62.7,398.1 Z" transform="translate(21.86,-21.74)"/></g><path d="M-62.7,398.1 L-63.2,401.1 Q-65.6,416.4 -80.8,413.7 A421.5,421.5 0 0 1 -190.3,376.1 Q-204.0,368.8 -196.5,355.3 L-195.1,352.6 Q-187.6,339.1 -173.9,346.3 A387.5,387.5 0 0 0 -75.5,380.1 Q-60.3,382.8 -62.7,398.1 Z"/>
<clipPath id="dc17"><path d="M-29.9,386.8 a28.5,28.5 0 1 0 57.0,0 a28.5,28.5 0 1 0 -57.0,0 Z"/></clipPath><g clip-path="url(#dc17)"><path d="M-29.9,386.8 a28.5,28.5 0 1 0 57.0,0 a28.5,28.5 0 1 0 -57.0,0 Z" transform="translate(24.17,-24.37)"/></g><path d="M-29.9,386.8 a28.5,28.5 0 1 0 57.0,0 a28.5,28.5 0 1 0 -57.0,0 Z"/>
<path d="M-27.4,386.8 a26,26 0 1 0 52,0 a26,26 0 1 0 -52,0 Z"/>
<clipPath id="dc18"><path d="M-277.2,292.6 L-279.2,294.7 Q-289.9,306.0 -300.9,295.1 A421.5,421.5 0 0 1 -369.9,202.1 Q-377.1,188.4 -363.2,181.5 L-360.5,180.1 Q-346.6,173.2 -339.4,186.9 A387.5,387.5 0 0 0 -277.5,270.4 Q-266.5,281.3 -277.2,292.6 Z"/></clipPath><g clip-path="url(#dc18)"><path d="M-277.2,292.6 L-279.2,294.7 Q-289.9,306.0 -300.9,295.1 A421.5,421.5 0 0 1 -369.9,202.1 Q-377.1,188.4 -363.2,181.5 L-360.5,180.1 Q-346.6,173.2 -339.4,186.9 A387.5,387.5 0 0 0 -277.5,270.4 Q-266.5,281.3 -277.2,292.6 Z" transform="translate(21.86,-21.74)"/></g><path d="M-277.2,292.6 L-279.2,294.7 Q-289.9,306.0 -300.9,295.1 A421.5,421.5 0 0 1 -369.9,202.1 Q-377.1,188.4 -363.2,181.5 L-360.5,180.1 Q-346.6,173.2 -339.4,186.9 A387.5,387.5 0 0 0 -277.5,270.4 Q-266.5,281.3 -277.2,292.6 Z"/>
<clipPath id="dc19"><path d="M-398.0,63.4 L-400.9,63.9 Q-416.3,66.3 -418.4,51.0 A421.5,421.5 0 0 1 -416.5,-64.8 Q-413.8,-80.1 -398.6,-77.1 L-395.7,-76.6 Q-380.4,-73.6 -383.1,-58.3 A387.5,387.5 0 0 0 -384.8,45.6 Q-382.7,61.0 -398.0,63.4 Z"/></clipPath><g clip-path="url(#dc19)"><path d="M-398.0,63.4 L-400.9,63.9 Q-416.3,66.3 -418.4,51.0 A421.5,421.5 0 0 1 -416.5,-64.8 Q-413.8,-80.1 -398.6,-77.1 L-395.7,-76.6 Q-380.4,-73.6 -383.1,-58.3 A387.5,387.5 0 0 0 -384.8,45.6 Q-382.7,61.0 -398.0,63.4 Z" transform="translate(21.86,-21.74)"/></g><path d="M-398.0,63.4 L-400.9,63.9 Q-416.3,66.3 -418.4,51.0 A421.5,421.5 0 0 1 -416.5,-64.8 Q-413.8,-80.1 -398.6,-77.1 L-395.7,-76.6 Q-380.4,-73.6 -383.1,-58.3 A387.5,387.5 0 0 0 -384.8,45.6 Q-382.7,61.0 -398.0,63.4 Z"/>
<clipPath id="dc20"><path d="M-396.8,118.2 a28.5,28.5 0 1 0 57.0,0 a28.5,28.5 0 1 0 -57.0,0 Z"/></clipPath><g clip-path="url(#dc20)"><path d="M-396.8,118.2 a28.5,28.5 0 1 0 57.0,0 a28.5,28.5 0 1 0 -57.0,0 Z" transform="translate(24.17,-24.37)"/></g><path d="M-396.8,118.2 a28.5,28.5 0 1 0 57.0,0 a28.5,28.5 0 1 0 -57.0,0 Z"/>
<path d="M-394.3,118.2 a26,26 0 1 0 52,0 a26,26 0 1 0 -52,0 Z"/>
<clipPath id="dc21"><path d="M-265.2,-233.8 L-254.7,-240.8 L-235.8,-244.2 A339,339 0 0 1 -155.5,-301.2 L-146.0,-317.3 L-131.3,-328.2 A428,428 0 0 1 140.4,-324.4 L140.4,-324.4 L150.3,-316.6 L159.4,-299.8 A339,339 0 0 1 238.5,-241.0 L256.7,-236.9 L271.6,-226.3 A428,428 0 0 1 351.9,33.3 L351.9,33.3 L347.6,45.1 L334.3,59.0 A339,339 0 0 1 302.9,152.3 L304.6,170.9 L299.1,188.4 A428,428 0 0 1 77.1,345.0 L77.1,345.0 L64.5,344.5 L47.2,336.2 A339,339 0 0 1 -51.3,335.1 L-68.4,342.5 L-86.7,342.7 A428,428 0 0 1 -304.3,179.9 L-304.3,179.9 L-307.7,167.8 L-305.1,148.8 A339,339 0 0 1 -334.5,54.8 L-346.9,40.8 L-352.7,23.4 A428,428 0 0 1 -265.2,-233.8 Z"/></clipPath><g clip-path="url(#dc21)"><path d="M-265.2,-233.8 L-254.7,-240.8 L-235.8,-244.2 A339,339 0 0 1 -155.5,-301.2 L-146.0,-317.3 L-131.3,-328.2 A428,428 0 0 1 140.4,-324.4 L140.4,-324.4 L150.3,-316.6 L159.4,-299.8 A339,339 0 0 1 238.5,-241.0 L256.7,-236.9 L271.6,-226.3 A428,428 0 0 1 351.9,33.3 L351.9,33.3 L347.6,45.1 L334.3,59.0 A339,339 0 0 1 302.9,152.3 L304.6,170.9 L299.1,188.4 A428,428 0 0 1 77.1,345.0 L77.1,345.0 L64.5,344.5 L47.2,336.2 A339,339 0 0 1 -51.3,335.1 L-68.4,342.5 L-86.7,342.7 A428,428 0 0 1 -304.3,179.9 L-304.3,179.9 L-307.7,167.8 L-305.1,148.8 A339,339 0 0 1 -334.5,54.8 L-346.9,40.8 L-352.7,23.4 A428,428 0 0 1 -265.2,-233.8 Z" transform="translate(18.41,-18.35)"/></g><path d="M-265.2,-233.8 L-254.7,-240.8 L-235.8,-244.2 A339,339 0 0 1 -155.5,-301.2 L-146.0,-317.3 L-131.3,-328.2 A428,428 0 0 1 140.4,-324.4 L140.4,-324.4 L150.3,-316.6 L159.4,-299.8 A339,339 0 0 1 238.5,-241.0 L256.7,-236.9 L271.6,-226.3 A428,428 0 0 1 351.9,33.3 L351.9,33.3 L347.6,45.1 L334.3,59.0 A339,339 0 0 1 302.9,152.3 L304.6,170.9 L299.1,188.4 A428,428 0 0 1 77.1,345.0 L77.1,345.0 L64.5,344.5 L47.2,336.2 A339,339 0 0 1 -51.3,335.1 L-68.4,342.5 L-86.7,342.7 A428,428 0 0 1 -304.3,179.9 L-304.3,179.9 L-307.7,167.8 L-305.1,148.8 A339,339 0 0 1 -334.5,54.8 L-346.9,40.8 L-352.7,23.4 A428,428 0 0 1 -265.2,-233.8 Z"/>
<circle cx="1.7" cy="-473.8" r="48" fill="#fff"/>
<circle cx="-6.8" cy="-465.6" r="48" fill="#fff"/>
<circle cx="-6.8" cy="-465.6" r="17.3"/>
<circle cx="453.1" cy="-141.0" r="48" fill="#fff"/>
<circle cx="444.5" cy="-132.9" r="48" fill="#fff"/>
<circle cx="444.5" cy="-132.9" r="17.3"/>
<circle cx="276.1" cy="391.0" r="48" fill="#fff"/>
<circle cx="267.5" cy="399.2" r="48" fill="#fff"/>
<circle cx="267.5" cy="399.2" r="17.3"/>
<circle cx="-284.7" cy="387.1" r="48" fill="#fff"/>
<circle cx="-293.2" cy="395.3" r="48" fill="#fff"/>
<circle cx="-293.2" cy="395.3" r="17.3"/>
<circle cx="-454.2" cy="-147.4" r="48" fill="#fff"/>
<circle cx="-462.7" cy="-139.2" r="48" fill="#fff"/>
<circle cx="-462.7" cy="-139.2" r="17.3"/>
</g></g>
<!-- 30_pads.svg -->
<g class="ln">
<path d="M1889.1,2184.1 L1907.7,2174.7 L1960.9,2177.4 L1967,2183.3 L1967.6,2193.9 L1959.1,2201.9 L1960.4,2209.9 L1943.9,2217.9" />
<path d="M1963.1,2212.5 L1981.7,2229.8 L2003,2269.8 L2021.6,2312.3 L2036.2,2349.6 L2032.8,2355.4 L2039.7,2357 L2042.9,2362.9 L2056.2,2402.8 L2067.6,2442.7 L2062.8,2449.4 L2070,2451.2 L2078.8,2490.6 L2085.5,2522.6 L2092.1,2533.2 L2094.8,2543.8 L2078,2556.6" />
<path d="M1960.4,2209.9 C1962.2,2212.1 1966.2,2213.6 1971,2223.2 C1975.9,2232.7 1983,2250.9 1989.7,2267.1 C1996.3,2283.3 2004.2,2303.9 2011,2320.3 C2017.7,2336.7 2024.3,2350 2030.1,2365.6 C2036,2381.1 2040.9,2397 2046.1,2413.5 C2051.2,2429.9 2056.9,2448.5 2061,2464 C2065.1,2479.5 2068.1,2495.9 2070.8,2506.6 C2073.6,2517.2 2075,2523.4 2077.5,2527.9 C2079.9,2532.3 2084.1,2532.3 2085.5,2533.2" />
<path d="M1955.1,2213.9 C1959.1,2222.7 1971.5,2249.3 1979,2267.1 C1986.6,2284.8 1993.2,2302.1 2000.3,2320.3 C2007.4,2338.5 2014.9,2356.7 2021.6,2376.2 C2028.3,2395.7 2034.5,2416.6 2040.2,2437.4 C2046,2458.2 2052.2,2486.2 2056.2,2501.3 C2060.2,2516.3 2062.8,2523.4 2064.2,2527.9" />
<path d="M2098.2,2636.9 C2099,2638.4 2100,2643.8 2103,2646.2 C2106,2648.6 2111.4,2649.7 2116.3,2651.5 C2121.2,2653.3 2126.9,2653.3 2132.2,2656.8 C2137.6,2660.4 2143.8,2666.2 2148.2,2672.8 C2152.6,2679.5 2156.6,2690.1 2158.9,2696.8 C2161.1,2703.4 2162,2707.8 2161.5,2712.7 C2161.1,2717.6 2159.3,2722.7 2156.2,2726 C2153.1,2729.4 2145.1,2731.6 2142.9,2732.7" />
<path d="M2081.2,2646.2 L2098.2,2636.9" />
<path d="M2089.7,2545.1 C2090.3,2549.1 2092.3,2558.8 2093.7,2569 C2095,2579.2 2096.5,2598.3 2097.7,2606.3 C2098.8,2614.3 2100.2,2611.8 2100.3,2616.9 C2100.4,2622 2098.5,2633.6 2098.2,2636.9" />
<path d="M2070.2,2559.7 L2092.3,2545.1" />
<path d="M2087,2545.1 C2087.5,2549.1 2088.4,2558.8 2089.7,2569 C2090.9,2579.2 2093.2,2597.9 2094.5,2606.3 C2095.7,2614.7 2096.7,2617.4 2097.1,2619.6" />
<path d="M1889.1,2184.1 L1945,2187.3 L1949,2192.6 L1951.1,2201.9 L1943.9,2206.4 L1943.1,2216.5 L1955.1,2237.8 L1979,2288.4 L2000.3,2341.6 L2021.6,2400.1 L2040.2,2461.4 L2053.5,2514.6 L2061,2534.5 L2070.8,2541.2 L2076.2,2549.2 L2078,2556.6 L2070.8,2560.3 L2072.4,2579.7 L2076.4,2606.3 L2081.2,2646.2 L2087,2659.5 L2100.3,2662.7 L2116.3,2666.2 L2132.2,2683.5 L2142.9,2707.4 L2144.2,2726 L2134.9,2736.7 L2116.3,2737.2 L2103,2731.4 L2087,2718 L2036.4,2672.8 L1977.9,2620.9 L1964.6,2603.6 L1956.6,2579.7 L1946,2539.8 L1930,2483.9 L1909.8,2429.4 L1888.5,2362.9 L1869.9,2309.7 L1859.3,2269.8 L1858.7,2255.1 L1864.6,2243.1 L1875.2,2235.7 L1889.9,2232.5 L1899.7,2229.8 L1900.5,2224.5 Z" fill="#fff" />
<ellipse cx="1941.2" cy="2324.8" rx="11" ry="15.5" transform="rotate(-20 1941.2 2324.8)" />
<ellipse cx="2012.3" cy="2551" rx="11" ry="15.5" transform="rotate(-20 2012.3 2551)" />
<ellipse cx="2115.7" cy="2700" rx="12" ry="19" transform="rotate(-20 2115.7 2700)" fill="#000"/>
<ellipse cx="2112.7" cy="2702" rx="12" ry="19" transform="rotate(-20 2112.7 2702)" fill="#fff"/>
<g stroke="none"><ellipse cx="2112.2" cy="2702.3" rx="10.5" ry="17.5" transform="rotate(-20 2112.2 2702.3)" fill="#fff"/></g>
<ellipse cx="2115.7" cy="2700" rx="12" ry="19" transform="rotate(-20 2115.7 2700)" />
<path d="M2082.8,2072.7 L2102.8,2061.7 L2157.8,2066.2 L2161.3,2072.7 L2160.3,2084.2 L2147.8,2094.2" />
<path d="M2147.8,2094.2 C2149,2096 2149.9,2095.8 2155.3,2105.2 C2160.7,2114.5 2171.1,2130.2 2180.3,2150.2 C2189.5,2170.2 2200.3,2198.6 2210.3,2225.3 C2220.3,2251.9 2231.2,2282.8 2240.4,2310.3 C2249.5,2337.8 2260,2374 2265.4,2390.4 C2270.8,2406.7 2270.5,2404.1 2272.7,2408.4 C2274.9,2412.6 2276.7,2414.3 2278.6,2415.7 C2280.6,2417.2 2283.1,2416 2284.5,2417.2 C2286,2418.5 2286.8,2420.7 2287.5,2423.1 C2288.2,2425.6 2289.7,2429.8 2289,2432 C2288.2,2434.2 2284,2435.7 2283.1,2436.4" />
<path d="M2082.8,2072.7 L2137.8,2076.7 L2145.3,2085.2 L2142.8,2100.2 L2136.3,2106.2" />
<path d="M2082.8,2072.7 L2094.3,2114.2 L2092.8,2120.2 L2075.3,2123.7 L2062.7,2127.7 L2055.2,2136.2" />
<path d="M2136.3,2106.2 C2142,2113.9 2159.6,2132.9 2170.3,2152.7 C2181,2172.6 2190.3,2199 2200.3,2225.3 C2210.3,2251.5 2221.2,2281.1 2230.3,2310.3 C2239.5,2339.5 2251.1,2381.8 2255.4,2400.4 C2259.6,2418.9 2254.8,2417.2 2255.7,2421.7 C2256.6,2426.1 2259,2425.9 2260.9,2426.8 C2262.7,2427.8 2265.2,2426.5 2266.8,2427.6 C2268.4,2428.7 2269.5,2431.3 2270.5,2433.5 C2271.5,2435.7 2272.3,2439.6 2272.7,2440.9" />
<path d="M2263.8,2448.3 L2289,2433.5" />
<path d="M2263.8,2448.3 C2264.1,2450.7 2264.1,2454.4 2265.3,2463.1 C2266.5,2471.7 2269.5,2488.2 2271.2,2500 C2273,2511.8 2274.9,2528.4 2275.7,2534" />
<path d="M2280.8,2439.4 C2281.2,2442.1 2281.7,2446.8 2283.1,2455.7 C2284.4,2464.5 2287.4,2481 2289,2492.6 C2290.6,2504.2 2292.1,2519.7 2292.7,2525.2" />
<path d="M2142.8,2100.2 L2147.8,2094.2" />
<path d="M2275.9,2534.4 L2293.2,2525.1" />
<path d="M2293.2,2525.1 C2293.9,2526.7 2294.8,2532 2297.2,2534.4 C2299.7,2536.9 2303.4,2538.4 2307.9,2539.8 C2312.3,2541.1 2318.5,2539.8 2323.8,2542.4 C2329.2,2545.1 2335.2,2550 2339.8,2555.7 C2344.5,2561.5 2349,2570.4 2351.8,2577 C2354.5,2583.7 2356.1,2589.9 2356.3,2595.6 C2356.5,2601.4 2356.8,2607.4 2353.1,2611.6 C2349.5,2615.8 2337.6,2619.4 2334.5,2620.9" />
<path d="M2275.9,2534.4 L2278.6,2542.4 L2286.6,2549.1 L2302.6,2551.7 L2318.5,2563.7 L2331.8,2585 L2337.7,2606.3 L2334.5,2622.2 L2326.5,2625.4 L2305.2,2623.6 L2283.9,2608.9 L2196.1,2530.4" />
<ellipse cx="2310" cy="2588.2" rx="12" ry="19" transform="rotate(-20 2310 2588.2)" fill="#000"/>
<g stroke="none"><ellipse cx="2306.5" cy="2590.5" rx="10.5" ry="17.5" transform="rotate(-20 2306.5 2590.5)" fill="#fff"/></g>
<ellipse cx="2310" cy="2588.2" rx="12" ry="19" transform="rotate(-20 2310 2588.2)" />
<path d="M2057.7,2136.2 C2067.8,2134 2105.7,2123.7 2117.8,2122.7 C2129.9,2121.7 2125.7,2125.2 2130.3,2130.2 C2134.9,2135.2 2137,2137.7 2145.3,2152.7 C2153.6,2167.7 2168.2,2194 2180.3,2220.3 C2192.4,2246.5 2207.4,2280.3 2217.8,2310.3 C2228.3,2340.3 2235.9,2370.3 2242.9,2400.4 C2249.8,2430.4 2256.3,2471.7 2259.4,2490.4 C2262.5,2509.2 2261.9,2506.7 2261.4,2512.9 C2260.9,2519.2 2259.4,2523.5 2256.4,2527.9 C2253.3,2532.4 2245.1,2537.5 2242.9,2539.4" />
<path d="M2042.7,2150.2 C2043.4,2145.9 2043,2146 2045.2,2144.2 C2047.5,2142.4 2045,2140.9 2056.2,2139.2 C2067.5,2137.5 2101.7,2134 2112.8,2134.2 C2123.9,2134.4 2119.4,2136.3 2122.8,2140.2 C2126.1,2144.1 2125.3,2143.5 2132.8,2157.7 C2140.3,2171.9 2156.1,2199 2167.8,2225.3 C2179.5,2251.5 2193.1,2286.1 2202.8,2315.3 C2212.6,2344.5 2219.9,2371.2 2226.3,2400.4 C2232.8,2429.5 2238.2,2470.4 2241.4,2490.4 C2244.5,2510.4 2245.1,2512.3 2245.4,2520.4 C2245.6,2528.6 2245.4,2536.1 2242.9,2539.4 C2240.4,2542.8 2238.3,2541.8 2230.3,2540.4 C2222.4,2539.1 2205.3,2534.4 2195.3,2531.4 C2185.3,2528.5 2177,2526.4 2170.3,2522.9 C2163.6,2519.4 2159.9,2515.8 2155.3,2510.4 C2150.7,2505 2149.5,2509.6 2142.8,2490.4 C2136.1,2471.2 2124,2425.4 2115.3,2395.4 C2106.5,2365.3 2098.6,2332.8 2090.3,2310.3 C2081.9,2287.8 2071.9,2276.1 2065.2,2260.3 C2058.6,2244.4 2054.2,2230.3 2050.2,2215.2 C2046.2,2200.2 2042.5,2181.1 2041.2,2170.2 C2040,2159.4 2042.1,2154.5 2042.7,2150.2 Z" fill="#fff" />
<path d="M2058.9,2216.5 L2166.6,2222.4 L2176.7,2215.7 L2177.8,2220.3 L2168,2227.7 L2060.2,2221.3" />
<path d="M2092.1,2308.3 L2202.6,2313.7 L2212.7,2307 L2213.7,2311.5 L2202.6,2319 L2093.5,2312.9" />
<path d="M2117.4,2398.8 L2227.8,2405.5 L2238,2398.8 L2239,2403.3 L2229.2,2410.8 L2118.7,2404.1" />
</g>

<!-- 40_caliper.svg -->
<g class="ln">
<path d="M1421.8,1252.6 C1428.7,1248.1 1453.5,1230.8 1463.1,1226 C1472.6,1221.1 1472.8,1222.4 1479,1223.3 C1485.2,1224.2 1493.2,1226 1500.3,1231.3 C1507.4,1236.6 1515.4,1246.4 1521.6,1255.2 C1527.8,1264.1 1532.7,1274.3 1537.6,1284.5 C1542.4,1294.7 1546.9,1307.1 1550.9,1316.4 C1554.9,1325.8 1558.4,1334.2 1561.5,1340.4 C1564.6,1346.6 1565.5,1348.8 1569.5,1353.7 C1573.5,1358.6 1581,1366.8 1585.5,1369.7 C1589.9,1372.6 1594.3,1370.8 1596.1,1371" />
<ellipse cx="1445" cy="1305.3" rx="35.1" ry="55.9" transform="rotate(-22 1445 1305.3)" />
<ellipse cx="1447.1" cy="1309" rx="31.4" ry="50.6" transform="rotate(-22 1447.1 1309)" />
<ellipse cx="1441.2" cy="1309.8" rx="16.5" ry="24.5" transform="rotate(-20 1441.2 1309.8)" />
<ellipse cx="1443.4" cy="1309.8" rx="13.3" ry="20" transform="rotate(-20 1443.4 1309.8)" />
<path d="M1495.5,1299.1 L1495.5,1332.4" />
<path d="M1494.5,1344.4 L1495,1352.4" />
<path d="M1455.1,1359 C1455.3,1361.2 1456.2,1368.3 1456.7,1372.3 C1457.1,1376.3 1457.6,1381.2 1457.7,1383" />
<path d="M1472.4,1367 L1475,1376.3" />
<path d="M1457.7,1355 C1459.5,1356.4 1464.8,1361.9 1468.4,1363 C1471.9,1364.1 1475.9,1363.7 1479,1361.7 C1482.1,1359.7 1485.7,1352.8 1487,1351" />
<path d="M1372.6,1432.2 L1457.7,1383" />
<path d="M1421.8,1420.2 L1500.3,1367 L1526.9,1353.7" />
<path d="M1372.6,1432.2 C1370.4,1435.1 1362.5,1442.2 1359.3,1449.5 C1356,1456.8 1354.3,1467.7 1353.2,1476.1 C1352,1484.5 1352.7,1496.1 1352.6,1500.1" />
<path d="M1352.6,1500 C1353.3,1504.4 1354.2,1515.5 1356.6,1526.6 C1359.1,1537.7 1362.8,1553.2 1367.3,1566.5 C1371.7,1579.8 1377.9,1592.7 1383.2,1606.4 C1388.5,1620.2 1395.2,1637.9 1399.2,1649 C1403.2,1660.1 1404.5,1664.1 1407.2,1673 C1409.8,1681.8 1411.6,1691.6 1415.2,1702.2 C1418.7,1712.9 1423.6,1727.1 1428.5,1736.8 C1433.3,1746.6 1437.8,1753.3 1444.4,1760.8 C1451.1,1768.3 1457.3,1773.2 1468.4,1782.1 C1479.5,1791 1497.2,1804 1511,1814 C1524.7,1824 1544.2,1837.3 1550.9,1842" />
<path d="M1420.5,1422.9 C1414.3,1424.2 1391.2,1429.3 1383.2,1430.9 C1375.2,1432.4 1374.4,1432 1372.6,1432.2" />
<path d="M1415.2,1436.2 C1407,1445.1 1374.6,1478.8 1365.9,1489.4 C1357.2,1500.1 1363.5,1498.3 1363,1500.1" />
<path d="M1363.3,1500 C1363.7,1505.3 1362.6,1517.3 1365.9,1531.9 C1369.3,1546.6 1377.5,1569.2 1383.2,1587.8 C1389,1606.4 1396.1,1629.1 1400.5,1643.7 C1405,1658.3 1408.3,1670.3 1409.8,1675.6" />
<path d="M1460.4,1776.8 L1516.3,1816.7" />
<path d="M1417.8,1428.2 C1418.5,1430.4 1418,1429.5 1421.8,1441.5 C1425.6,1453.5 1437.3,1490.3 1440.4,1500.1" />
<path d="M1423.1,1422.9 C1423.8,1425.1 1422.3,1423.3 1427.1,1436.2 C1432,1449.1 1448.2,1489.4 1452.4,1500.1" />
<path d="M1440.4,1500 C1446.9,1517.7 1467.3,1571 1479,1606.4 C1490.8,1641.9 1502.1,1681.8 1511,1712.9 C1519.8,1743.9 1526.9,1772.8 1532.2,1792.7 C1537.6,1812.7 1541.1,1826 1542.9,1832.6" />
<path d="M1452.4,1500 C1459.1,1517.7 1480.8,1571 1492.3,1606.4 C1503.9,1641.9 1513.6,1681.8 1521.6,1712.9 C1529.6,1743.9 1535.6,1771.4 1540.2,1792.7 C1544.9,1814 1548,1832.6 1549.5,1840.6" />
<path d="M1457.7,1480.1 L1520.3,1615.8" />
<path d="M1532.2,1654.3 C1534.5,1662.3 1542,1683.6 1545.6,1702.2 C1549.1,1720.9 1551.5,1743.1 1553.5,1766.1 C1555.5,1789.2 1556.9,1828.2 1557.5,1840.6" />
<path d="M1479,1380.3 C1483,1376.5 1492.8,1364.1 1503,1357.7 C1513.2,1351.3 1530,1344.2 1540.2,1341.7 C1550.4,1339.3 1560.2,1342.8 1564.2,1343.1" />
<path d="M1606.8,1372.3 C1609,1374.1 1617.6,1379.9 1620.1,1383 C1622.5,1386.1 1622.7,1388.5 1621.4,1391 C1620.1,1393.4 1613.6,1396.5 1612.1,1397.6" />
<path d="M1612.1,1397.6 C1598.8,1404.5 1548.2,1431.2 1532.2,1438.9 C1516.3,1446.5 1521.6,1443.6 1516.3,1443.6 C1511,1443.6 1504.7,1442.3 1500.3,1438.9 C1495.9,1435.4 1493.4,1429.1 1489.7,1422.9 C1485.9,1416.7 1479.5,1408.7 1477.7,1401.6 C1475.9,1394.5 1478.8,1383.9 1479,1380.3" />
<path d="M1614.7,1396.3 C1598.3,1407.6 1535.4,1451.1 1516.3,1464.1 C1497.2,1477.2 1506.5,1472.8 1500.3,1474.8 C1494.1,1476.8 1486.1,1477.7 1479,1476.1 C1471.9,1474.6 1463.9,1470.8 1457.7,1465.5 C1451.5,1460.1 1445.1,1450.8 1441.8,1444.2 C1438.4,1437.5 1437.8,1430 1437.8,1425.6 C1437.8,1421.1 1441.1,1418.9 1441.8,1417.6" />
<path d="M1447.1,1422.9 C1447.5,1426.4 1447.1,1437.5 1449.8,1444.2 C1452.4,1450.8 1458.2,1458.2 1463.1,1462.8 C1467.9,1467.5 1473.7,1470.3 1479,1472.1 C1484.3,1473.9 1492.3,1473.2 1495,1473.5" />
<ellipse cx="1513.6" cy="1406.9" rx="20" ry="21.8" transform="rotate(-10 1513.6 1406.9)" />
<ellipse cx="1514.2" cy="1407.5" rx="17.6" ry="19.4" transform="rotate(-10 1514.2 1407.5)" />
<ellipse cx="1471" cy="1436.2" rx="12" ry="18.6" transform="rotate(-25 1471 1436.2)" />
<path d="M1576.2,1351 L1675.9,1308.5 L1711.9,1310.6 L1596.1,1365.7 L1586.8,1372.3 L1569.5,1353.7" />
<path d="M1580.1,1357.7 L1697.2,1312.5" />
<path d="M1596.1,1369.7 C1609.4,1365.7 1647.6,1354.8 1675.9,1345.7 C1704.3,1336.6 1749.1,1320.9 1766.4,1315.1 C1783.8,1309.3 1777.7,1311.8 1780,1311.1" />
<path d="M1660,1264.6 L1705.2,1276.5 L1699.9,1289.8 L1641.4,1315.1 L1628,1309.8 L1621.4,1289.8 L1620.1,1283.2 L1660,1264.6" />
<path d="M1658.6,1267.2 C1663.1,1264.3 1676.6,1253.9 1685.3,1249.9 C1693.9,1245.9 1694.8,1245.5 1710.5,1243.3 C1726.3,1241 1768.4,1237.7 1780,1236.6" />
<path d="M1570.8,1348.4 L1658.6,1267.2" />
<path d="M1711.7,1243.3 C1723.2,1242.2 1766.2,1237.7 1780.9,1236.6 C1795.5,1235.5 1794.6,1235.5 1799.5,1236.6 C1804.4,1237.7 1807.5,1240.6 1810.1,1243.3 C1812.8,1245.9 1814.6,1251 1815.5,1252.6" />
<path d="M1815.5,1252.6 C1817.2,1256.1 1820.8,1262.3 1826.1,1273.9 C1831.4,1285.4 1840.3,1304.9 1847.4,1321.8 C1854.5,1338.6 1861.2,1354.6 1868.7,1375 C1876.2,1395.4 1885.5,1422.9 1892.6,1444.2 C1899.7,1465.5 1905.9,1484.1 1911.3,1502.7 C1916.6,1521.4 1921,1540.4 1924.6,1555.9 C1928.1,1571.5 1930.3,1582.6 1932.6,1595.9 C1934.8,1609.2 1937,1629.1 1937.9,1635.8" />
<path d="M1927.2,1553.2 C1928.6,1562.1 1933.2,1592.3 1935.2,1606.4 C1937.2,1620.6 1939,1630.8 1939.2,1638.4 C1939.4,1645.9 1938.5,1647.2 1936.6,1651.7 C1934.6,1656.1 1931,1661 1927.2,1665 C1923.5,1669 1916.1,1673.9 1913.9,1675.6" />
<path d="M1815.5,1252.6 C1814.1,1257 1811,1271.6 1807.5,1279.2 C1803.9,1286.7 1799.1,1292.5 1794.2,1297.8 C1789.3,1303.1 1780.9,1308.9 1778.2,1311.1" />
<path d="M1772.9,1315.1 C1768.5,1316.9 1756.9,1321.5 1746.3,1325.8 C1735.6,1330 1721.4,1336 1709,1340.4 C1696.6,1344.8 1690.8,1347 1671.8,1352.4 C1652.7,1357.7 1607.5,1369 1594.6,1372.3" />
<path d="M1772.9,1315.1 L1778.2,1311.1" />
<path d="M1772.9,1315.1 L1804.8,1375" />
<path d="M1804.8,1375 C1810.1,1370.1 1829.9,1351.3 1836.8,1345.7 C1843.6,1340.2 1843.4,1341.3 1846.1,1341.7 C1848.7,1342.2 1848.7,1341.5 1852.7,1348.4 C1856.7,1355.3 1867.4,1375.9 1870,1383 C1872.7,1390.1 1870.7,1387 1868.7,1391 C1866.7,1394.9 1864.3,1401.4 1858,1406.9 C1851.8,1412.5 1835.9,1421.3 1831.4,1424.2" />
<path d="M1804.8,1375 C1801.7,1376.8 1799.5,1379 1786.2,1385.6 C1772.9,1392.3 1743.6,1406.5 1725,1414.9 C1706.4,1423.3 1685.5,1431.1 1674.4,1436.2 C1663.3,1441.3 1662.5,1442.6 1658.5,1445.5 C1654.5,1448.4 1651.8,1452.2 1650.5,1453.5" />
<path d="M1650.5,1453.5 L1650.5,1500.1" />
<path d="M1786.2,1385.6 C1776,1390.5 1743.6,1406.5 1725,1414.9 C1706.4,1423.3 1682.9,1432.6 1674.4,1436.2" style="stroke-width:4.5"/>
<path d="M1786.2,1388.3 C1787.5,1392.3 1791.1,1406.5 1794.2,1412.2 C1797.3,1418 1799.5,1420.5 1804.8,1422.9 C1810.1,1425.3 1822.1,1425.6 1826.1,1426.9 C1830.1,1428.2 1828.3,1430.2 1828.8,1430.9" />
<path d="M1806.2,1417.6 L1868.7,1384.3" />
<path d="M1828.8,1430.9 L1791.5,1452.2" />
<path d="M1796.8,1422.9 C1777.8,1434.4 1708.6,1477 1682.4,1492.1 C1656.2,1507.2 1649.8,1508.7 1639.8,1513.4 C1629.9,1518 1625.4,1518.9 1622.5,1520" />
<path d="M1622.5,1520 C1616.5,1522.5 1597,1529.1 1586.6,1534.7 C1576.2,1540.2 1564.4,1550.2 1560,1553.3" />
<path d="M1685.1,1521.4 L1786.2,1454.8" style="stroke-width:5.5"/>
<path d="M1786.2,1454.8 C1790.2,1454.2 1803.5,1450.4 1810.1,1450.8 C1816.8,1451.3 1820.8,1453.7 1826.1,1457.5 C1831.4,1461.3 1837.2,1467.2 1842.1,1473.5 C1847,1479.7 1851.8,1486.8 1855.4,1494.7 C1858.9,1502.7 1861.8,1512.9 1863.4,1521.4 C1864.9,1529.8 1865.1,1536.4 1864.7,1545.3 C1864.3,1554.2 1863.1,1566.6 1860.7,1574.6 C1858.3,1582.6 1853.2,1589.4 1850.1,1593.2 C1847,1597 1843.4,1596.5 1842.1,1597.2" />
<path d="M1810.1,1450.8 C1812.8,1451.9 1820.8,1453.7 1826.1,1457.5 C1831.4,1461.3 1837.2,1467.2 1842.1,1473.5 C1847,1479.7 1851.8,1486.8 1855.4,1494.7 C1858.9,1502.7 1862,1516.9 1863.4,1521.4" style="stroke-width:4.5"/>
<path d="M1727.7,1657.1 L1842.1,1597.2" style="stroke-width:5.5"/>
<path d="M1842.1,1597.2 C1847.4,1594.3 1864.7,1586.8 1874,1579.9 C1883.3,1573 1891.3,1562.8 1898,1555.9 C1904.6,1549.1 1911.3,1541.5 1913.9,1538.6" />
<path d="M1913.9,1538.6 C1914.8,1538.6 1917.5,1531.8 1919.3,1538.6 C1921,1545.5 1924.1,1571.2 1924.6,1579.9 C1925,1588.5 1922.4,1588.8 1921.9,1590.5" />
<path d="M1921.9,1590.5 L1868.7,1617.2" />
<path d="M1863.4,1521.4 L1874,1578.6" />
<path d="M1852.7,1595.9 C1854.1,1599.9 1858,1614.9 1860.7,1619.8 C1863.4,1624.7 1864.7,1623.6 1868.7,1625.1 C1872.7,1626.7 1882,1628.5 1884.7,1629.1" />
<path d="M1884.7,1629.1 C1885.5,1634.3 1888.2,1648.7 1890,1660 C1891.8,1671.3 1892.6,1684.6 1895.3,1697 C1898,1709.4 1904.2,1728 1905.9,1734.2" />
<path d="M1890,1626.5 C1892.6,1624.5 1900.6,1620.5 1905.9,1614.5 C1911.3,1608.5 1919.3,1594.5 1921.9,1590.5" />
<path d="M1860.7,1623.8 L1741,1693" />
<path d="M1879.3,1633.1 C1857.2,1643.5 1771.6,1684.8 1746.3,1695.7 C1721,1706.5 1732.1,1699 1727.7,1698.3 C1723.2,1697.7 1724.1,1697.7 1719.7,1691.7 C1715.2,1685.7 1704.1,1667.3 1701,1662.4" />
<path d="M1626.5,1524 L1677.1,1522.7 L1685.1,1521.4" />
<path d="M1682.4,1522.7 L1682.4,1541.3 L1687.7,1542.6" />
<path d="M1623.9,1518.7 C1624.3,1521.4 1623.4,1531.1 1626.5,1534.7 C1629.6,1538.2 1638.9,1538.4 1642.5,1540 C1646,1541.5 1646.9,1543.3 1647.8,1544" />
<path d="M1629.2,1541.3 L1679.8,1544" />
<path d="M1687.7,1542.6 C1691.3,1544.9 1703.3,1550.2 1709,1555.9 C1714.8,1561.7 1719.2,1569.3 1722.3,1577.2 C1725.4,1585.2 1727.4,1595 1727.7,1603.8 C1727.9,1612.7 1725.4,1624.2 1723.7,1630.5 C1721.9,1636.7 1718.1,1639.3 1717,1641.1" />
<path d="M1687.7,1542.6 C1691.3,1544.9 1703.3,1550.2 1709,1555.9 C1714.8,1561.7 1719.2,1569.3 1722.3,1577.2 C1725.4,1585.2 1726.8,1599.4 1727.7,1603.8" style="stroke-width:4.5"/>
<path d="M1685.1,1641.1 L1714.3,1638.4 L1719.7,1649.1 L1725,1657.1 L1730.3,1657.1" />
<path d="M1669.1,1659.7 L1725,1661.1" />
<ellipse cx="1645.3" cy="1603.8" rx="39.9" ry="61.7" transform="rotate(-14 1645.3 1603.8)" />
<ellipse cx="1644" cy="1603.8" rx="34.1" ry="55.4" transform="rotate(-14 1644 1603.8)" />
<ellipse cx="1641.9" cy="1604.4" rx="20.8" ry="32.5" transform="rotate(-14 1641.9 1604.4)" />
<ellipse cx="1640" cy="1605.2" rx="16.5" ry="27.1" transform="rotate(-14 1640 1605.2)" />
<path d="M1622.7,1522.7 C1616.1,1525.1 1594.8,1530.4 1582.8,1537.3 C1570.8,1544.2 1559.3,1554.2 1550.9,1563.9 C1542.4,1573.7 1536.5,1585.2 1532.2,1595.9 C1528,1606.5 1526,1617.1 1525.6,1627.8 C1525.1,1638.5 1526.7,1652.5 1529.6,1660 C1532.5,1667.5 1536.2,1670.4 1542.9,1673 C1549.5,1675.7 1560.6,1675 1569.5,1675.7 C1578.4,1676.4 1587.2,1677 1596.1,1677 C1605,1677 1618.3,1675.9 1622.7,1675.7" />
<path d="M1625.4,1540 C1621,1542.6 1605.4,1550.2 1598.8,1555.9 C1592.1,1561.7 1587.7,1571.5 1585.5,1574.6" />
<path d="M1581.5,1577.2 C1581.2,1579.5 1579.8,1585.7 1579.6,1590.5 C1579.4,1595.4 1580.1,1603.8 1580.1,1606.5" />
<path d="M1596.1,1650.4 C1598.3,1652.4 1603.7,1659.1 1609.4,1662.4 C1615.2,1665.7 1621.8,1669.9 1630.7,1670.4 C1639.6,1670.8 1657.3,1665.9 1662.6,1665.1" />
<path d="M1550.9,1842 C1552.2,1841.7 1546.4,1845.3 1558.9,1840.6 C1571.3,1836 1606.3,1821.6 1625.4,1814 C1644.5,1806.5 1650.4,1804.3 1673.3,1795.4 C1696.1,1786.5 1747.6,1766.6 1762.4,1760.8" style="stroke-width:4"/>
<path d="M1913.9,1675.6 C1908.2,1679.2 1894,1688.1 1879.3,1696.9 C1864.7,1705.8 1838.5,1721.5 1826.1,1728.9 C1813.7,1736.2 1809.5,1737.5 1804.8,1740.8 C1800.2,1744.2 1799.5,1745 1798.2,1748.8 C1796.8,1752.6 1797.9,1757.9 1796.8,1763.5 C1795.7,1769 1794.2,1775 1791.5,1782.1 C1788.9,1789.2 1784,1798.9 1780.9,1806 C1777.8,1813.1 1775.1,1819.3 1772.9,1824.7 C1770.7,1830 1770,1835.1 1767.6,1838 C1765.1,1840.8 1759.8,1841.3 1758.3,1842" />
<path d="M1913.9,1675.6 C1916.6,1679.2 1925.9,1689.4 1929.9,1696.9 C1933.9,1704.5 1937,1713.8 1937.9,1720.9 C1938.8,1728 1937,1734.2 1935.2,1739.5 C1933.4,1744.8 1934.3,1747.9 1927.2,1752.8 C1920.1,1757.7 1901.1,1765.4 1892.6,1768.8 C1884.2,1772.1 1882,1772.8 1876.7,1772.8 C1871.4,1772.8 1865.6,1771.7 1860.7,1768.8 C1855.8,1765.9 1851.4,1760.3 1847.4,1755.5 C1843.4,1750.6 1839.4,1743.5 1836.8,1739.5 C1834.1,1735.5 1832.3,1732.8 1831.4,1731.5" />
<ellipse cx="1859.4" cy="1733.4" rx="11.2" ry="16.5" transform="rotate(-15 1859.4 1733.4)" />
<path d="M1879.3,1698.3 L1896.6,1762.1" />
<path d="M1905.9,1683.6 C1905.5,1688.5 1902.8,1703.6 1903.3,1712.9 C1903.7,1722.2 1908.6,1732.4 1908.6,1739.5 C1908.6,1746.6 1904.2,1752.8 1903.3,1755.5" />
<path d="M1903.3,1755.5 L1927.2,1743.5" />
<path d="M1891.3,1696.9 L1905.9,1734.2" />
<path d="M1407.2,1673 C1404.5,1673.6 1395.9,1674.7 1391.2,1677 C1386.5,1679.2 1382,1681.6 1379.2,1686.3 C1376.5,1690.9 1374.7,1698.3 1374.7,1704.9 C1374.7,1711.6 1376.5,1719.5 1379.2,1726.2 C1382,1732.8 1386.5,1739.3 1391.2,1744.8 C1395.9,1750.4 1402.3,1756.4 1407.2,1759.5 C1412.1,1762.6 1416.5,1763 1420.5,1763.5 C1424.5,1763.9 1428,1763.2 1431.1,1762.1 C1434.2,1761 1437.8,1757.7 1439.1,1756.8" />
<ellipse cx="1402.4" cy="1723" rx="20.8" ry="29.8" transform="rotate(-25 1402.4 1723)" />
<ellipse cx="1404" cy="1724.1" rx="17.6" ry="26.1" transform="rotate(-25 1404 1724.1)" />
<path d="M1762.2,1760.8 C1761.1,1761.7 1757.6,1759.5 1755.6,1766.1 C1753.6,1772.8 1752.7,1789.6 1750.3,1800.7 C1747.8,1811.8 1744.3,1824.7 1741,1832.6 C1737.6,1840.6 1738.1,1844.6 1730.3,1848.6 C1722.6,1852.6 1700.4,1855.3 1694.4,1856.6" />
<path d="M1671.8,1800.7 L1731.6,1839.3" />
<path d="M1669.1,1803.4 L1687.7,1853.9" />
<path d="M1626.5,1814 C1627.4,1817.6 1629.2,1828.2 1631.9,1835.3 C1634.5,1842.4 1638.1,1849.5 1642.5,1856.6 C1646.9,1863.7 1653.1,1873.4 1658.5,1877.9 C1663.8,1882.3 1669.5,1882.5 1674.4,1883.2 C1679.3,1883.9 1685.5,1882.1 1687.7,1881.9" />
<path d="M1687.7,1881.9 L1767.6,1842" />
<path d="M1758.3,1838 L1698.4,1872.6" />
<ellipse cx="1661.4" cy="1851.3" rx="21.3" ry="32.5" transform="rotate(-15 1661.4 1851.3)" />
<ellipse cx="1662.5" cy="1851.8" rx="17" ry="28.2" transform="rotate(-15 1662.5 1851.8)" />
<path d="M1673.1,1823.3 C1675.1,1826.7 1682.2,1836 1685.1,1843.3 C1688,1850.6 1690,1860.8 1690.4,1867.2 C1690.8,1873.7 1688.2,1879.4 1687.7,1881.9" />
<text transform="matrix(0.394,1.249,-1.152,-0.665,1387,1514)" style="font-family:'Liberation Sans',sans-serif;font-weight:bold;font-size:50px;fill:#fff;stroke:#000;stroke-width:2.1px;stroke-linejoin:round" letter-spacing="1">NISSIN</text>
</g>

<!-- 50_bracket.svg -->
<g class="ln">
<path d="M1769.1,232.5 C1774,228.8 1786,217 1798.4,209.9 C1810.8,202.8 1831.6,193.9 1843.6,190 C1855.6,186.1 1860.9,186.7 1870.2,186.5 C1879.5,186.3 1885.8,186.7 1899.5,188.6 C1913.3,190.5 1937.2,194.6 1952.7,197.9 C1968.2,201.3 1981.8,205 1992.6,208.6 C2003.5,212.1 2013.7,217.5 2017.9,219.2" />
<path d="M2017.9,219.2 C2020.4,218.1 2027.9,213.7 2032.6,212.6 C2037.2,211.5 2041,210.8 2045.9,212.6 C2050.7,214.4 2057,218.3 2061.8,223.2 C2066.7,228.1 2072.1,235.6 2075.1,241.9 C2078.2,248.1 2079.7,254.7 2079.9,260.5 C2080.1,266.2 2080.4,271.3 2076.5,276.4 C2072.6,281.5 2059.8,288.6 2056.5,291.1" />
<path d="M2017.9,219.2 C2021.2,222.6 2032.3,231.4 2037.9,239.2 C2043.4,247 2048.1,257.2 2051.2,265.8 C2054.3,274.4 2056.1,284 2056.5,291.1 C2057,298.2 2055.6,301.9 2053.8,308.4 C2052.1,314.8 2047.2,326.1 2045.9,329.7" />
<path d="M2045.9,329.7 L1936.8,396.2 L1927.4,396.2 L1922.1,384.2" />
<path d="M1841,209.9 L1872.9,190" />
<ellipse cx="1778.4" cy="288.4" rx="35.1" ry="51.9" transform="rotate(-20 1778.4 288.4)" />
<ellipse cx="1780.3" cy="289.8" rx="31.4" ry="47.9" transform="rotate(-20 1780.3 289.8)" />
<path d="M1769.1,232.5 C1771.8,231.6 1779.3,227.2 1785.1,227.2 C1790.8,227.2 1797.9,228.8 1803.7,232.5 C1809.5,236.3 1814.8,241.6 1819.7,249.8 C1824.5,258 1830.3,272 1833,281.8 C1835.6,291.5 1836.1,302.2 1835.6,308.4 C1835.2,314.6 1834.7,314.6 1830.3,319 C1825.9,323.5 1814.3,331.9 1809,335 C1803.7,338.1 1800.2,337.2 1798.4,337.7" />
<path d="M1755.8,240.5 C1759.3,239.4 1770,233.6 1777.1,233.9 C1784.2,234.1 1792.4,237 1798.4,241.9 C1804.4,246.7 1809.2,255.2 1813,263.1 C1816.8,271.1 1819.9,281.3 1821,289.8 C1822.1,298.2 1821.7,306.6 1819.7,313.7 C1817.7,320.8 1810.8,329.2 1809,332.3" />
<ellipse cx="1774.4" cy="291.1" rx="16.5" ry="23.4" transform="rotate(-20 1774.4 291.1)" />
<ellipse cx="1777.1" cy="292.4" rx="13.3" ry="20" transform="rotate(-20 1777.1 292.4)" />
<path d="M1774.4,227.2 C1779.3,225 1795.3,216.8 1803.7,213.9 C1812.1,211 1817.9,209.3 1825,209.9 C1832.1,210.6 1840.1,213.9 1846.3,217.9 C1852.5,221.9 1848.9,219.7 1862.2,233.9 C1875.6,248.1 1912.8,287.1 1926.1,303.1 C1939.4,319 1938.5,321.2 1942.1,329.7 C1945.6,338.1 1947.8,345.6 1947.4,353.6 C1947,361.6 1941.6,370.9 1939.4,377.6 C1937.2,384.2 1935,390.9 1934.1,393.5" />
<path d="M1862.2,297.7 C1864.9,295.7 1872,287.5 1878.2,285.8 C1884.4,284 1892.4,284.2 1899.5,287.1 C1906.6,290 1914.6,296 1920.8,303.1 C1927,310.2 1933.7,320.8 1936.8,329.7 C1939.9,338.5 1940.3,348.7 1939.4,356.3 C1938.5,363.8 1934.3,370.3 1931.4,374.9 C1928.6,379.6 1923.7,382.7 1922.1,384.2" />
<ellipse cx="1880.9" cy="345.6" rx="36.7" ry="46.6" transform="rotate(-20 1880.9 345.6)" />
<ellipse cx="1882.2" cy="347" rx="31.4" ry="40.4" transform="rotate(-20 1882.2 347)" />
<ellipse cx="1881.4" cy="347.5" rx="28.2" ry="36.7" transform="rotate(-20 1881.4 347.5)" />
<ellipse cx="1883" cy="347.8" rx="25.5" ry="34.1" transform="rotate(-20 1883 347.8)" />
<ellipse cx="1887.5" cy="340.3" rx="17.3" ry="26.6" transform="rotate(-20 1887.5 340.3)" />
<path d="M1872.9,329.7 C1873.3,333.2 1873.3,344.7 1875.6,351 C1877.8,357.2 1882.2,363.4 1886.2,366.9 C1890.2,370.5 1897.3,371.4 1899.5,372.2" style="stroke-width:4.5"/>
<path d="M1741.2,260.5 C1737.8,266.7 1726.8,285.3 1721.2,297.7 C1715.7,310.2 1710.8,324.3 1707.9,335 C1705,345.6 1704.1,349.2 1703.9,361.6 C1703.7,374 1705,393.5 1706.6,409.5 C1708.1,425.5 1711.2,444.1 1713.2,457.4 C1715.2,470.7 1717.7,484 1718.5,489.3" />
<path d="M1818.3,335 L1841,404.2" />
<path d="M1830.3,319 L1851.6,398.9" />
<path d="M1848.9,374.9 C1849.4,373.6 1849.8,367.4 1851.6,366.9 C1853.4,366.5 1856.9,366.9 1859.6,372.2 C1862.2,377.6 1866.2,394.4 1867.6,398.9" />
<path d="M1841,404.2 C1845.4,403.7 1859.6,403.7 1867.6,401.5 C1875.6,399.3 1879.8,393.8 1888.9,390.9 C1897.9,388 1916.6,385.3 1922.1,384.2" />
<path d="M1851.6,404.2 C1849.8,407.7 1844.5,416.6 1841,425.5 C1837.4,434.3 1831.9,449 1830.3,457.4 C1828.8,465.8 1829,464.1 1831.6,476 C1834.3,488 1841.2,511.5 1846.3,529.3 C1851.4,547 1857.8,567.4 1862.2,582.5 C1866.7,597.6 1871.1,613.7 1872.9,620" />
<path d="M1830.3,408.2 C1827.7,409.7 1819.2,411.9 1814.3,417.5 C1809.5,423 1804.6,433.9 1801,441.4 C1797.5,449 1794.4,455.6 1793.1,462.7 C1791.7,469.8 1792.2,477.4 1793.1,484 C1793.9,490.7 1793.9,488.4 1798.4,502.6 C1802.8,516.8 1813.9,549.6 1819.7,569.2 C1825.4,588.7 1830.8,611.5 1833,620" />
<path d="M1794.4,489.3 L1806.4,501.3" />
<ellipse cx="1753.1" cy="533.2" rx="39.9" ry="54.6" transform="rotate(-20 1753.1 533.2)" />
<ellipse cx="1751.8" cy="534" rx="34.6" ry="49.2" transform="rotate(-20 1751.8 534)" />
<path d="M1771.8,485.3 C1774,488.2 1781.5,495.3 1785.1,502.6 C1788.6,510 1791.5,520.4 1793.1,529.3 C1794.6,538.1 1795.3,547.9 1794.4,555.9 C1793.5,563.8 1790.6,572.3 1787.7,577.2 C1784.9,582 1778.9,583.8 1777.1,585.1" />
<ellipse cx="1746.5" cy="538.6" rx="16.5" ry="24" transform="rotate(-20 1746.5 538.6)" />
<ellipse cx="1749.1" cy="539.9" rx="13.3" ry="20" transform="rotate(-20 1749.1 539.9)" />
<path d="M1747.8,580 L1818.3,729" />
<path d="M1814.3,560 C1819.2,574.6 1834.7,621.6 1843.6,647.8 C1852.5,674 1860.5,702.4 1867.6,717 C1874.7,731.6 1883.1,732.5 1886.2,735.6" />
<path d="M1855.6,560 C1859.8,574.6 1873.6,625.6 1880.9,647.8 C1888.2,670 1893.7,681.1 1899.5,693.1 C1905.3,705 1911.5,711.2 1915.5,719.7 C1919.5,728.1 1922.3,736.5 1923.5,743.6 C1924.6,750.7 1923.9,757.4 1922.1,762.2 C1920.3,767.1 1919.2,768.5 1912.8,772.9 C1906.4,777.3 1888.4,786.2 1883.5,788.9" />
<path d="M1910.1,709 C1911.7,712.6 1917.2,724.1 1919.5,730.3 C1921.7,736.5 1922.8,743.6 1923.5,746.3" style="stroke-width:5"/>
<path d="M1810.4,743.6 C1811.9,740.5 1815.9,730.1 1819.7,725 C1823.4,719.9 1828.5,715 1833,713 C1837.4,711 1841.4,711.5 1846.3,713 C1851.2,714.6 1859.6,720.8 1862.2,722.3" />
<path d="M1819.7,733 L1843.6,730.3 L1862.2,767.6 L1859.6,796.8 L1838.3,798.2" />
<path d="M1862.2,767.6 L1874.2,762.2 L1872.9,794.2 L1859.6,796.8" />
<path d="M1846.3,713 C1850.3,715.9 1864,723 1870.2,730.3 C1876.4,737.6 1880.9,748.1 1883.5,756.9 C1886.2,765.8 1887.1,777.3 1886.2,783.5 C1885.3,789.7 1879.5,792.4 1878.2,794.2" />
<path d="M1835.6,715.7 C1840.1,718.6 1855.4,725.7 1862.2,733 C1869.1,740.3 1874,750.7 1876.9,759.6 C1879.8,768.5 1880.2,780.2 1879.5,786.2 C1878.9,792.2 1874,794 1872.9,795.5" />
<path d="M1819.7,733 C1818.6,735.2 1814.3,743.2 1813,746.3 C1811.7,749.4 1811.9,750.7 1811.7,751.6" />
<path d="M1811.7,751.6 L1717.2,806.2" />
<path d="M1830.3,794.2 L1739.8,847.4" />
<ellipse cx="1726.5" cy="827.4" rx="14.6" ry="21.3" transform="rotate(-20 1726.5 827.4)" />
<path d="M1722.5,808.8 C1725,809.9 1733.4,810.4 1737.2,815.5 C1740.9,820.6 1744.7,834.1 1745.2,839.4 C1745.6,844.7 1740.7,846.1 1739.8,847.4" />
<path d="M1743.8,802.2 L1813,766.2 L1821,770.2 L1822.3,779.5 L1751.8,816.8" />
<path d="M1811.7,750.3 C1813.9,749.6 1821,746.1 1825,746.3 C1829,746.5 1832.5,747.6 1835.6,751.6 C1838.7,755.6 1842.3,764.5 1843.6,770.2 C1844.9,776 1844.9,781.8 1843.6,786.2 C1842.3,790.6 1837.9,795.5 1835.6,796.8 C1833.4,798.2 1831.2,794.6 1830.3,794.2" />
<path d="M1819.7,747.6 C1821.4,749.6 1827.7,754.5 1830.3,759.6 C1833,764.7 1835.2,772.4 1835.6,778.2 C1836.1,784 1833.4,791.5 1833,794.2" />
<path d="M1843.6,770.2 C1844.9,770.7 1849.4,770.2 1851.6,772.9 C1853.8,775.6 1856.9,782.2 1856.9,786.2 C1856.9,790.2 1852.5,795.1 1851.6,796.8" />
<path d="M2023.2,450.7 L2016.6,434.8 L2035.2,433.5 L2045.9,449.4 L2043.2,456.1 L2073.8,456.9 L2083.1,465.4 L2084.5,460.1 L2092.4,458.7 L2095.1,468 L2085.8,472 L1963.4,542.6 L1959.4,545.2 L1958,537.2 L1963.4,526.6" />
<path d="M2023.2,450.7 L2043.2,450.7" />
<path d="M2023.2,450.7 L1976.7,473.4 L1983.3,500 L2028.6,474.7" />
<path d="M1976.7,473.4 L2028.6,474.7" style="stroke-width:5"/>
<path d="M1983.3,501.3 L1939.4,496 L1923.5,505.3 L1922.1,515.9 L1928.8,519.9 L1963.4,522.6 L1963.4,526.6" />
<path d="M1902.2,501.3 L1919.5,501.3 L1922.1,515.9" />
<path d="M1902.2,501.3 L1903.5,518.6 L1898.2,531.9 L1900.8,543.9 L1911.5,545.8 L1947.4,523.9" />
<path d="M2071.1,461.4 L1963.4,525.3" />
<path d="M1903.5,518.6 L1919.5,521.3" />
<ellipse cx="1951.4" cy="506.6" rx="8.5" ry="2.9" transform="rotate(-15 1951.4 506.6)" fill="#000"/>
<path d="M1959.4,543.9 L1962,534.6" style="stroke-width:5"/>
</g>

<!-- 60_bolt92154.svg -->
<g class="ln">
<path d="M986.9,304.7 L1112.9,233.7" />
<path d="M1112.9,233.7 C1114.7,233.6 1120,231.3 1123.5,232.8 C1127.1,234.3 1131.4,238.3 1134.2,242.6 C1137,246.9 1139.5,253.8 1140.4,258.5 C1141.3,263.3 1140.2,268 1139.5,271 C1138.7,273.9 1136.5,275.4 1135.9,276.3" />
<path d="M1135.9,276.3 L1011.8,347.2" />
<path d="M1024.2,286.9 C1026.5,289 1034.8,294.6 1038.4,299.3 C1041.9,304.1 1044.3,310.9 1045.5,315.3 C1046.7,319.7 1045.5,324.2 1045.5,326" />
<path d="M1056.1,269.2 C1058.5,271.3 1066.8,276.9 1070.3,281.6 C1073.9,286.3 1076.2,293.1 1077.4,297.6 C1078.6,302 1077.4,306.4 1077.4,308.2" />
<path d="M1086.3,251.4 C1088.6,253.2 1096.8,257.7 1100.5,262.1 C1104.2,266.5 1107,273.6 1108.4,278.1 C1109.9,282.5 1109.2,286.9 1109.3,288.7" />
<path d="M938.1,313.5 C939.2,311.8 941.2,305.8 944.3,302.9 C947.5,299.9 952.9,296.8 956.8,295.8 C960.6,294.8 963,294.9 967.4,296.7 C971.8,298.5 978.1,301.3 983.4,306.4 C988.7,311.6 995.1,320.3 999.3,327.7 C1003.6,335.1 1007.2,344.3 1009.1,350.8 C1011,357.3 1011.6,362 1010.9,366.8 C1010.1,371.5 1007.8,375.9 1004.7,379.2 C1001.6,382.4 996.1,385.1 992.2,386.3 C988.4,387.5 983.4,386.3 981.6,386.3" />
<path d="M962.1,296.7 C965,298.6 974.5,303 979.8,308.2 C985.2,313.4 990,320.6 994,327.7 C998,334.8 1001.7,344.3 1003.8,350.8 C1005.8,357.3 1006.6,362.3 1006.4,366.8 C1006.3,371.2 1003.5,375.6 1002.9,377.4" />
<path d="M994,304.7 C996.1,306.7 1003.2,312.1 1006.4,317.1 C1009.7,322.1 1012.2,330.7 1013.5,334.8 C1014.9,339 1014.3,340.7 1014.4,341.9" />
<path d="M988.7,306.4 C990.8,308.8 997.9,315.3 1001.1,320.6 C1004.4,326 1006.9,333.9 1008.2,338.4 C1009.5,342.8 1009,345.8 1009.1,347.2" />
<path d="M926.6,320.6 L955,318.9 L976.3,350.8 L977.2,384.5 L971,387.2 L952.3,387.2 L925.7,350.8 L926.6,320.6" />
<path d="M926.6,320.6 L942.6,310.9 L971,308.2 L955,318.9" />
<path d="M971,308.2 L996.7,340.1 L976.3,350.8" />
<path d="M996.7,340.1 L997.6,373.9 L977.2,384.5" />
<ellipse cx="951.4" cy="353.5" rx="20.9" ry="31" transform="rotate(-15 951.4 353.5)" />
<ellipse cx="950.6" cy="354" rx="23.1" ry="32.8" transform="rotate(-15 950.6 354)" />
</g>

<!-- 61_pin92153.svg -->
<g class="ln">
<path d="M1165.1,730.3 L1300.8,650.4" />
<path d="M1300.8,650.4 C1303.5,649.8 1311.9,645.8 1316.8,646.4 C1321.6,647.1 1326.5,650.4 1330.1,654.4 C1333.6,658.4 1336.4,665.5 1338,670.4 C1339.7,675.3 1340.6,679.7 1340.2,683.7 C1339.7,687.7 1337.5,691.9 1335.4,694.3 C1333.3,696.8 1328.7,697.7 1327.4,698.3" />
<path d="M1327.4,698.3 L1186.4,780.8" />
<path d="M1183.7,750.2 L1330.1,667.7" />
<path d="M1194.3,766.2 L1335.4,686.4" />
<path d="M1311.4,647.8 C1313.9,649.3 1322.3,652.4 1326.1,657.1 C1329.8,661.7 1332.9,670 1334.1,675.7 C1335.2,681.5 1332.9,689 1332.7,691.7" />
<path d="M1146.4,734.3 C1148.7,733.6 1155.3,729.8 1159.8,730.3 C1164.2,730.7 1168.6,734 1173.1,736.9 C1177.5,739.8 1184.1,745.8 1186.4,747.6" />
<path d="M1186.4,747.6 C1185.5,748.5 1182.4,750.7 1181,752.9 C1179.7,755.1 1177.9,757.8 1178.4,760.9 C1178.8,764 1182.1,768.2 1183.7,771.5 C1185.3,774.8 1188.4,777.9 1187.7,780.8 C1187,783.7 1181.7,788.2 1179.7,788.8 C1177.7,789.5 1176.4,785.5 1175.7,784.8" />
<path d="M1154.4,732.9 C1156.6,734.9 1163.7,739.4 1167.7,744.9 C1171.7,750.5 1176.4,759.1 1178.4,766.2 C1180.4,773.3 1179.5,783.9 1179.7,787.5" />
<path d="M1107.9,758.2 C1108.5,755.6 1109,746.2 1111.9,742.2 C1114.7,738.3 1120.3,735.1 1125.2,734.3 C1130,733.4 1135.8,733.8 1141.1,736.9 C1146.4,740 1152.2,746.2 1157.1,752.9 C1162,759.5 1167.5,769.7 1170.4,776.8 C1173.3,783.9 1174.8,790.1 1174.4,795.5 C1173.9,800.8 1171.1,805.4 1167.7,808.8 C1164.4,812.1 1158.9,815 1154.4,815.4 C1150,815.9 1144.7,813.4 1141.1,811.4 C1137.6,809.4 1134.5,804.8 1133.1,803.5" />
<path d="M1146.4,738.3 C1149.1,741.1 1158.2,748.7 1162.4,755.6 C1166.6,762.4 1170,772 1171.7,779.5 C1173.5,787 1172.8,797.2 1173.1,800.8" />
<ellipse cx="1089.2" cy="803.5" rx="16" ry="24" transform="rotate(-20 1089.2 803.5)" />
<path d="M1077.3,783.5 L1130.5,752.9" />
<path d="M1097.2,826.1 L1151.8,795.5" />
<path d="M1098.5,774.2 C1101.2,776.4 1110.5,781.3 1114.5,787.5 C1118.5,793.7 1121.2,807.4 1122.5,811.4" />
<path d="M1117.2,763.5 C1119.8,765.8 1129.1,770.6 1133.1,776.8 C1137.1,783.1 1139.8,796.8 1141.1,800.8" />
<path d="M1130.5,752.9 C1133.1,754.7 1142.5,758.2 1146.4,763.5 C1150.4,768.9 1153.5,779.5 1154.4,784.8 C1155.3,790.1 1152.2,793.7 1151.8,795.5" />
<path d="M1350,601.2 C1350.7,594.6 1351.1,585.5 1354,579.9 C1356.9,574.4 1361.1,570.4 1367.3,567.9 C1373.5,565.5 1382.8,565.1 1391.3,565.3 C1399.7,565.5 1409.9,565.9 1417.9,569.3 C1425.9,572.6 1433,579 1439.2,585.2 C1445.4,591.4 1451.6,599.4 1455.1,606.5 C1458.7,613.6 1460.5,620.7 1460.5,627.8 C1460.5,634.9 1457.8,642.5 1455.1,649.1 C1452.5,655.8 1448,662.4 1444.5,667.7 C1440.9,673.1 1439.2,678.2 1433.8,681 C1428.5,683.9 1419.2,685.5 1412.6,685 C1405.9,684.6 1400.6,682.1 1393.9,678.4 C1387.3,674.6 1378.9,668.6 1372.6,662.4 C1366.4,656.2 1360.4,648.2 1356.7,641.1 C1352.9,634 1351.1,626.5 1350,619.8 C1348.9,613.2 1349.4,607.9 1350,601.2 Z" />
<path d="M1378,566.6 C1383.7,570.6 1403.2,581.7 1412.6,590.6 C1421.9,599.4 1429,610.5 1433.8,619.8 C1438.7,629.1 1440.9,638.9 1441.8,646.4 C1442.7,654 1440.9,659.8 1439.2,665.1 C1437.4,670.4 1432.5,676.2 1431.2,678.4" />
<path d="M1417.9,569.3 C1421.9,573.3 1435.8,584.8 1441.8,593.2 C1447.8,601.6 1451.6,611.4 1453.8,619.8 C1456,628.3 1454.9,639.8 1455.1,643.8" />
<path d="M1351.4,611.9 C1352.7,609.6 1355.3,601.6 1359.3,598.5 C1363.3,595.4 1369.5,592.8 1375.3,593.2 C1381.1,593.7 1388.2,596.8 1393.9,601.2 C1399.7,605.6 1405.9,613.2 1409.9,619.8 C1413.9,626.5 1416.8,634.9 1417.9,641.1 C1419,647.3 1418.3,653.1 1416.6,657.1 C1414.8,661.1 1411,662.9 1407.2,665.1 C1403.5,667.3 1396.1,669.5 1393.9,670.4" />
<ellipse cx="1376.6" cy="637.1" rx="21.3" ry="27.9" transform="rotate(-20 1376.6 637.1)" />
<ellipse cx="1382" cy="634.5" rx="15.4" ry="23.4" transform="rotate(-20 1382 634.5)" />
<ellipse cx="1380.6" cy="635.3" rx="17" ry="25" transform="rotate(-20 1380.6 635.3)" />
</g>

<!-- 62_boot49006.svg -->
<g class="ln">
<path d="M1379,996.1 C1379.8,992.6 1382,990.6 1384.3,989 C1386.7,987.4 1389.7,985.8 1393.2,986.4 C1396.8,986.9 1401.8,989.2 1405.6,992.6 C1409.5,996 1413.5,1001.4 1416.3,1006.8 C1419.1,1012.1 1421.3,1019.8 1422.5,1024.5 C1423.7,1029.2 1424.1,1031.9 1423.4,1035.1 C1422.6,1038.4 1420.1,1041.9 1418.1,1044 C1416,1046.1 1414.2,1047.9 1411,1047.6 C1407.7,1047.3 1402.7,1045.5 1398.5,1042.2 C1394.4,1039 1389.2,1033.4 1386.1,1028 C1383,1022.7 1381.1,1015.6 1379.9,1010.3 C1378.7,1005 1378.3,999.7 1379,996.1 Z" />
<path d="M1379,996.1 C1379.5,994 1380.5,987.2 1381.7,983.7 C1382.9,980.1 1383.3,976.9 1386.1,974.8 C1388.9,972.8 1394.4,971.3 1398.5,971.3 C1402.7,971.3 1406.5,972.2 1411,974.8 C1415.4,977.5 1421,982.5 1425.2,987.2 C1429.3,992 1433,997.6 1435.8,1003.2 C1438.6,1008.8 1440.8,1015.6 1442,1020.9 C1443.2,1026.3 1443.3,1031 1442.9,1035.1 C1442.4,1039.3 1442,1043.6 1439.3,1045.8 C1436.7,1048 1431.7,1048.1 1426.9,1048.4 C1422.2,1048.7 1413.6,1047.7 1411,1047.6" />
<path d="M1386.1,974.8 C1391.7,971.9 1411.8,959.9 1419.8,957.1 C1427.8,954.3 1429.6,956.5 1434,958 C1438.5,959.4 1442.3,962 1446.4,966 C1450.6,969.9 1455.6,976.3 1458.9,981.9 C1462.1,987.5 1464.5,993.7 1466,999.7 C1467.4,1005.6 1468,1012.7 1467.7,1017.4 C1467.4,1022.1 1468.6,1023.9 1464.2,1028 C1459.7,1032.2 1445,1039.9 1441.1,1042.2" />
<path d="M1435.8,958 L1490.8,927.8" />
<path d="M1468.6,1013 C1475,1010.2 1498,1000.7 1506.8,996.1 C1515.5,991.5 1518.6,987.2 1520.9,985.5" />
<path d="M1490.8,927.8 C1492.3,928 1496.4,926.8 1499.7,928.7 C1502.9,930.6 1507.1,934.9 1510.3,939.3 C1513.6,943.8 1516.8,950 1519.2,955.3 C1521.5,960.6 1523.8,966.8 1524.5,971.3 C1525.2,975.7 1524.2,979.6 1523.6,981.9 C1523,984.3 1521.4,984.9 1520.9,985.5" />
<path d="M1473.9,935.8 C1473.8,934 1472,929.3 1473,925.2 C1474.1,921 1477.2,914.7 1480.1,911 C1483.1,907.3 1486.7,904.8 1490.8,903 C1494.9,901.2 1500.3,900.5 1505,900.3 C1509.7,900.2 1514.1,900 1519.2,902.1 C1524.2,904.2 1530.1,908.3 1535.1,912.7 C1540.2,917.2 1545.6,922.5 1549.3,928.7 C1553,934.9 1555.7,942.9 1557.3,950 C1558.9,957.1 1559.4,965.4 1559.1,971.3 C1558.8,977.2 1557.5,981.6 1555.5,985.5 C1553.6,989.3 1550.4,992.3 1547.6,994.3 C1544.7,996.4 1540.2,997.3 1538.7,997.9" />
<path d="M1494.3,906.5 C1497.6,907.6 1507.9,909 1513.9,912.7 C1519.8,916.4 1525.4,922.5 1529.8,928.7 C1534.3,934.9 1537.8,942.9 1540.5,950 C1543.1,957.1 1545.2,965.1 1545.8,971.3 C1546.4,977.5 1545.2,982.8 1544,987.2 C1542.8,991.7 1541.3,995.5 1538.7,997.9 C1536,1000.3 1531.6,1001 1528,1001.4 C1524.5,1001.9 1520.4,1001.3 1517.4,1000.5 C1514.4,999.8 1511.5,997.6 1510.3,997" />
<path d="M1478.4,923.4 C1480.4,922.3 1486.4,917.8 1490.8,917.2 C1495.2,916.6 1500.3,917.3 1505,919.8 C1509.7,922.3 1515,927.2 1519.2,932.2 C1523.3,937.3 1527.2,943.8 1529.8,950 C1532.5,956.2 1534.4,963.6 1535.1,969.5 C1535.9,975.4 1535.4,981.3 1534.3,985.5 C1533.1,989.6 1531.1,992.6 1528,994.3 C1524.9,996.1 1517.7,995.8 1515.6,996.1" style="stroke-width:4.5"/>
<path d="M1481.9,928.7 C1483.7,927.8 1488.7,923.8 1492.6,923.4 C1496.4,922.9 1500.8,923.7 1505,926 C1509.1,928.4 1513.9,933 1517.4,937.6 C1520.9,942.2 1524.1,947.9 1526.3,953.5 C1528.5,959.2 1530.1,966 1530.7,971.3 C1531.3,976.6 1530.9,981.9 1529.8,985.5 C1528.8,989 1525.4,991.4 1524.5,992.6" />
</g>

<!-- 63_bleeder.svg -->
<g class="ln">
<path d="M1727.7,1015.2 C1726.6,1016.6 1722.4,1020.1 1721.3,1023.7 C1720.2,1027.2 1720.2,1032.2 1721.3,1036.5 C1722.4,1040.7 1724.8,1045.9 1727.7,1049.2 C1730.5,1052.6 1734.4,1055.6 1738.3,1056.7 C1742.2,1057.7 1747.9,1056.9 1751.1,1055.6 C1754.3,1054.4 1756.4,1050.3 1757.5,1049.2" />
<path d="M1730.9,1010.9 C1731,1013.4 1730.3,1020.8 1731.9,1025.8 C1733.5,1030.8 1736.9,1037.2 1740.5,1040.7 C1744,1044.3 1751.1,1046 1753.2,1047.1" />
<path d="M1735.1,1004.5 C1736.4,1003.1 1739.2,998 1742.6,996 C1746,994 1750.7,992.5 1755.4,992.8 C1760,993.2 1765.8,995.1 1770.3,998.1 C1774.7,1001.1 1779.3,1006.6 1782,1010.9 C1784.6,1015.2 1785.7,1020.1 1786.2,1023.7 C1786.8,1027.2 1785.3,1030.8 1785.2,1032.2 L1785.2,1032.2 L1823.5,1088.6 L1823.5,1088.6 C1824.9,1089.5 1828.5,1092.3 1832,1093.9 C1835.5,1095.5 1841,1095.4 1844.8,1098.2 C1848.5,1101 1852.2,1106 1854.4,1111 C1856.5,1115.9 1857.4,1122.7 1857.5,1128 C1857.7,1133.3 1857.2,1138.8 1855.4,1142.9 C1853.6,1147 1850.8,1150.4 1846.9,1152.5 C1843,1154.6 1837,1155.9 1832,1155.7 C1827,1155.5 1821.7,1154.3 1817.1,1151.4 C1812.5,1148.6 1807.7,1143.6 1804.3,1138.6 C1801,1133.7 1798.3,1126.2 1796.9,1121.6 C1795.5,1117 1795.3,1113.8 1795.8,1111 C1796.3,1108.1 1799.4,1105.6 1800.1,1104.6 L1800.1,1104.6 L1760.7,1046 L1760.7,1046 C1759.4,1046 1756.2,1047.3 1753.2,1046 C1750.2,1044.8 1745.8,1042.3 1742.6,1038.6 C1739.4,1034.9 1735.3,1029.4 1734.1,1023.7 C1732.8,1018 1735,1007.7 1735.1,1004.5 Z" fill="#fff" />
<path d="M1757.5,1049.2 L1795.8,1106.7" />
<path d="M1796.9,1128 C1797.8,1130.1 1799.2,1136.7 1802.2,1140.8 C1805.2,1144.9 1810.4,1149.8 1815,1152.5 C1819.6,1155.1 1824.9,1156.6 1829.9,1156.7 C1834.8,1156.9 1842.3,1154.1 1844.8,1153.5" />
<ellipse cx="1759.6" cy="1020.5" rx="11.7" ry="13.8" transform="rotate(-30 1759.6 1020.5)" />
<path d="M1752.2,1013 C1754.1,1013.4 1761,1013 1763.9,1015.2 C1766.7,1017.3 1768.8,1023 1769.2,1025.8 C1769.5,1028.6 1766.5,1031.1 1766,1032.2" />
<ellipse cx="1827.7" cy="1122.7" rx="18.1" ry="20.2" transform="rotate(-10 1827.7 1122.7)" />
<ellipse cx="1825.6" cy="1123.7" rx="14.9" ry="18.1" transform="rotate(-10 1825.6 1123.7)" />
<path d="M1934.2,987.5 C1932.1,989.3 1924.6,993.5 1921.4,998.1 C1918.2,1002.7 1916.1,1009.8 1915,1015.2 C1914,1020.5 1913.6,1026 1915,1030.1 C1916.5,1034.1 1920,1037.9 1923.5,1039.6 C1927.1,1041.4 1931.7,1041.2 1936.3,1040.7 C1940.9,1040.2 1946.3,1040 1951.2,1036.5 C1956.2,1032.9 1963.6,1022.3 1966.1,1019.4" />
<path d="M1925.7,993.9 C1926.2,996.7 1926.4,1005.6 1928.9,1010.9 C1931.4,1016.2 1936.1,1022.4 1940.6,1025.8 C1945,1029.2 1953,1030.2 1955.5,1031.1" />
<path d="M1932.1,991.7 C1932.8,994.2 1933.8,1002 1936.3,1006.6 C1938.8,1011.3 1942.7,1016.9 1947,1019.4 C1951.2,1021.9 1959.4,1021.2 1961.9,1021.5" />
<path d="M1919.3,1002.4 C1919.6,1005.2 1919.3,1014.1 1921.4,1019.4 C1923.5,1024.7 1927.8,1031.3 1932.1,1034.3 C1936.3,1037.3 1944.5,1037 1947,1037.5" />
<path d="M1934.2,986.4 L1953.4,957.7 L1972.5,956.6" />
<path d="M1953.4,957.7 L1940.6,983.2" />
<path d="M1947,972.6 C1946.3,975.4 1942.4,984.6 1942.7,989.6 C1943.1,994.6 1945.9,999 1949.1,1002.4 C1952.3,1005.8 1959.7,1008.6 1961.9,1009.8" />
<path d="M1955.5,1013 L1966.1,1019.4 L1985.3,1020.5 L1993.8,1013 L1994.9,1008.8" />
<path d="M1955.5,1013 L1961.9,1009.8 L1985.3,1010.9 L1993.8,1013" />
<path d="M1960.8,972.6 C1963.1,968.3 1972,958.7 1974.6,959.8 C1977.3,960.9 1973.6,974.2 1976.8,979 C1980,983.8 1989.5,987.3 1993.8,988.5 C1998.1,989.8 2001.6,985.2 2002.3,986.4 C2003,987.7 2001.3,994 1998.1,996 C1994.9,998 1988.1,998.5 1983.2,998.1 C1978.2,997.8 1972,996 1968.3,993.9 C1964.5,991.7 1962,988.9 1960.8,985.4 C1959.6,981.8 1958.5,976.8 1960.8,972.6 Z" fill="#000" />
<ellipse cx="1991.7" cy="970.5" rx="14.9" ry="18.1" transform="rotate(-15 1991.7 970.5)" fill="#fff"/>
<ellipse cx="1992.7" cy="968.3" rx="7.5" ry="7.5" transform="rotate(0 1992.7 968.3)" />
<path d="M1998.1,996 L1995.9,1006.6" />
</g>

<!-- 64_rings.svg -->
<g class="ln">
<ellipse cx="2190.7" cy="1306.9" rx="53.2" ry="94.4" transform="rotate(-30 2190.7 1306.9)" fill="#fff"/>
<ellipse cx="2173.7" cy="1316.9" rx="53.2" ry="94.4" transform="rotate(-30 2173.7 1316.9)" fill="#fff"/>
<ellipse cx="2173.7" cy="1316.9" rx="45.2" ry="80.2" transform="rotate(-30 2173.7 1316.9)" />
<clipPath id="rc1"><ellipse cx="2173.7" cy="1316.9" rx="45.2" ry="80.2" transform="rotate(-30 2173.7 1316.9)"/></clipPath>
<g clip-path="url(#rc1)"><ellipse cx="2190.7" cy="1306.9" rx="45.2" ry="80.2" transform="rotate(-30 2190.7 1306.9)"/></g>
<ellipse cx="2326.7" cy="1231" rx="54.1" ry="86.7" transform="rotate(-30 2326.7 1231)" fill="#fff"/>
<ellipse cx="2317.7" cy="1236" rx="54.1" ry="86.7" transform="rotate(-30 2317.7 1236)" fill="#fff"/>
<ellipse cx="2319.7" cy="1235" rx="48.7" ry="78" transform="rotate(-30 2319.7 1235)" />
<ellipse cx="2323.7" cy="1233" rx="45.4" ry="74.6" transform="rotate(-30 2323.7 1233)" />
<ellipse cx="2574" cy="1087.6" rx="47.7" ry="80.4" transform="rotate(-30 2574 1087.6)" fill="#fff"/>
<path d="M2407.8,1089.0 L2533.8,1018.0 L2614.2,1157.2 L2488.2,1228.2 Z" fill="#fff" stroke="none"/>
<path d="M2407.8,1089.0 L2533.8,1018.0 M2614.2,1157.2 L2488.2,1228.2" />
<ellipse cx="2448" cy="1158.6" rx="47.7" ry="80.4" transform="rotate(-30 2448 1158.6)" fill="#fff"/>
<ellipse cx="2450" cy="1157.6" rx="42.9" ry="72.4" transform="rotate(-30 2450 1157.6)" />
<ellipse cx="2451" cy="1157.6" rx="37.2" ry="64.3" transform="rotate(-30 2451 1157.6)" />
<ellipse cx="2448" cy="1158.6" rx="28.6" ry="48.2" transform="rotate(-30 2448 1158.6)" />
<ellipse cx="2451" cy="1156.6" rx="28.6" ry="49.8" transform="rotate(-30 2451 1156.6)" />
</g>

<!-- 65_spring.svg -->
<g class="ln">
<path d="M1120.4,1447.1 L1254.7,1369.7 L1261.3,1370.5 L1262.9,1375.4 L1253,1382.8 L1250.6,1410.9 L1243.2,1420.8 L1231.6,1429.8 L1226.7,1442.2 L1223.4,1471.8 L1223.4,1501.5 L1243.2,1518 L1252.2,1532.8 L1256.3,1550.9 L1257.2,1564.1 L1261.3,1567.4 L1269.5,1560.8 L1277.8,1560.8 L1280.2,1567.4 L1280.2,1587.2 L1286,1591.3 L1286,1597.1 L1142.6,1677.8 L1137.7,1674.5 L1135.2,1666.3 L1135.2,1641.6 L1145.9,1630 L1157.5,1623.5 L1160.8,1613.6 L1160.8,1593.8 L1152.5,1579 L1144.3,1570.7 L1126.1,1555.9 L1126.1,1521.3 L1129.4,1496.6 L1133.6,1488.3 L1127.8,1488.3 L1119.6,1490 L1115.4,1485 L1115.4,1478.4 Z" style="stroke-width:4"/>
<path d="M1127.8,1447.1 L1259.6,1374.6" />
<path d="M1129.4,1453.7 L1253,1382.8" style="stroke-width:4.5"/>
<path d="M1143.4,1667.9 L1277.8,1592.1" />
<path d="M1145.9,1672.1 L1285.2,1596.3" style="stroke-width:4"/>
<path d="M1149.2,1513 L1157.5,1465.2 L1162.4,1458.7 L1205.2,1433.9 L1210.2,1438.9 L1206.9,1471.8 L1210.2,1475.1 L1210.2,1478.4 L1203.6,1485 L1202.8,1488.3 L1187.1,1495.7 L1186.3,1490 L1175.6,1476 L1171.5,1478.4 L1165.7,1501.5 L1159.1,1509.7 L1152.5,1516.3 Z" style="stroke-width:3.6"/>
<path d="M1175.6,1476 L1195.4,1463.6 L1206.1,1475.1 L1187.1,1486.7 L1175.6,1476" />
<path d="M1187.1,1486.7 L1187.1,1494.9" />
<path d="M1206.1,1475.1 L1203.6,1485" />
<path d="M1150.9,1539.4 L1164,1532 L1167.3,1536.1 L1182.2,1544.4 L1190.4,1555.9 L1211.8,1544.4 L1205.2,1532.8 L1193.7,1526.2 L1187.1,1521.3 L1187.1,1518 L1198.7,1511.4 L1205.2,1518 L1221.7,1529.5 L1231.6,1546 L1236.6,1567.4 L1233.3,1582.3 L1225,1590.5 L1192.1,1608.6 L1183.8,1608.6 L1181.4,1597.1 L1178.9,1577.3 L1170.6,1559.2 L1150.9,1544.4 Z" style="stroke-width:3.6"/>
<path d="M1133.6,1526.2 L1147.6,1519.6" />
<path d="M1132.7,1551.8 L1147.6,1545.2" />
<path d="M1206.9,1484.2 L1220.1,1477.6" />
<path d="M1206.9,1509.7 L1220.1,1503.2" />
<path d="M1186.3,1541.9 L1200.3,1535.3" />
</g>

<!-- 66_pin92043.svg -->
<g class="ln">
<path d="M1230.3,2076.3 L1386.8,1985.8" />
<path d="M1246.3,2107.1 L1405.9,2014.5" />
<path d="M1386.8,1985.8 C1388.5,1987 1394.4,1989.9 1397.4,1993.2 C1400.4,1996.6 1403.4,2002.5 1404.9,2006 C1406.3,2009.5 1405.8,2013.1 1405.9,2014.5" />
<path d="M1391,1984.7 L1410.2,1974.1 L1416.6,1975.1" />
<path d="M1405.9,2014.5 L1425.1,2002.8 L1427.2,1995.4" />
<path d="M1410.2,1974.1 C1412.3,1975.8 1420.1,1981.2 1423,1984.7 C1425.8,1988.3 1426.5,1993.6 1427.2,1995.4" />
<path d="M1416.6,1971.9 C1418,1970.9 1422.3,1966.4 1425.1,1965.5 C1427.9,1964.7 1430.4,1964.8 1433.6,1966.6 C1436.8,1968.4 1441.9,1972.8 1444.3,1976.2 C1446.6,1979.6 1447.8,1984 1447.4,1986.8 C1447.1,1989.7 1444.4,1991.6 1442.1,1993.2 C1439.8,1994.8 1436.1,1996.4 1433.6,1996.4 C1431.1,1996.4 1428.3,1993.8 1427.2,1993.2" />
<path d="M1418.7,1974.1 C1420.5,1975.5 1426.9,1979 1429.4,1982.6 C1431.8,1986.1 1432.9,1993.2 1433.6,1995.4" />
<path d="M1431.5,1967.7 C1432.9,1969.1 1438.2,1972.3 1440,1976.2 C1441.8,1980.1 1441.8,1988.6 1442.1,1991.1" />
<path d="M1416.6,1971.9 C1416.8,1973.4 1416.6,1977.6 1417.6,1980.5 C1418.7,1983.3 1422.1,1987.5 1423,1989" />
<path d="M1218.6,2074.1 C1221.1,2075.9 1229.4,2080.2 1233.5,2084.8 C1237.6,2089.4 1241.1,2096.8 1243.1,2101.8 C1245,2106.8 1246.1,2110.7 1245.2,2114.6 C1244.3,2118.5 1239,2123.5 1237.7,2125.2" />
<path d="M1210.1,2076.3 C1211.8,2077.7 1217,2080.2 1220.7,2084.8 C1224.4,2089.4 1229.9,2097.9 1232.4,2103.9 C1234.9,2110 1236.1,2116.4 1235.6,2121 C1235.1,2125.6 1230.3,2129.8 1229.2,2131.6" />
<path d="M1199.4,2080.5 C1201.2,2081.9 1206.5,2084.4 1210.1,2089 C1213.6,2093.6 1218.2,2102.2 1220.7,2108.2 C1223.2,2114.2 1225,2120.6 1225,2125.2 C1225,2129.8 1221.4,2134.1 1220.7,2135.9" />
<path d="M1188.8,2086.9 C1190.5,2088.3 1195.7,2090.8 1199.4,2095.4 C1203.1,2100 1208.6,2108.5 1211.1,2114.6 C1213.6,2120.6 1214.5,2127 1214.3,2131.6 C1214.1,2136.2 1210.8,2140.5 1210.1,2142.3" />
<path d="M1165.4,2098.6 C1167.5,2100.2 1174.2,2103.8 1178.1,2108.2 C1182,2112.6 1186.5,2119.2 1188.8,2125.2 C1191.1,2131.3 1191.4,2141.2 1192,2144.4" />
<path d="M1176,2093.3 C1177.8,2094.7 1182.7,2097.2 1186.6,2101.8 C1190.5,2106.4 1196.6,2114.9 1199.4,2121 C1202.3,2127 1204,2133.2 1203.7,2138 C1203.3,2142.8 1198.4,2147.8 1197.3,2149.7" style="stroke-width:5"/>
<path d="M1163.2,2099.7 L1203.7,2077.3 L1218.6,2074.1 L1230.3,2076.3" />
<path d="M1193,2150.8 L1237.7,2125.2" />
<path d="M1237.7,2125.2 C1238.8,2123.8 1242.7,2119.7 1244.1,2116.7 C1245.5,2113.7 1245.9,2108.7 1246.3,2107.1" />
<path d="M1133.4,2121 L1159,2105 L1171.7,2110.3 L1184.5,2131.6 L1189.8,2135.9 L1188.8,2150.8 L1167.5,2163.5" />
<path d="M1133.4,2121 C1135.2,2118.8 1138,2121.3 1141.9,2123.1 C1145.8,2124.9 1152.8,2127 1156.8,2131.6 C1160.9,2136.2 1164.6,2145.5 1166.4,2150.8 C1168.2,2156.1 1170.5,2161.2 1167.5,2163.5 C1164.5,2165.9 1153.3,2166.4 1148.3,2164.6 C1143.4,2162.8 1140.5,2157.7 1137.7,2152.9 C1134.8,2148.1 1132,2141.2 1131.3,2135.9 C1130.6,2130.5 1131.6,2123.1 1133.4,2121 Z" />
<path d="M1141.9,2123.1 L1171.7,2110.3" />
<path d="M1166.4,2150.8 L1189.8,2136.9" />
<ellipse cx="1500" cy="1941" rx="14" ry="17" transform="rotate(-20 1500 1941)" />
<ellipse cx="1500.5" cy="1941.5" rx="11.5" ry="14.5" transform="rotate(-20 1500.5 1941.5)" />
<ellipse cx="1497.5" cy="1942.5" rx="4.5" ry="8.5" transform="rotate(-20 1497.5 1942.5)" />
</g>

<!-- 67_bolt92154A.svg -->
<g class="ln">
<ellipse cx="205.4" cy="3456.4" rx="29.3" ry="57.4" transform="rotate(-30 205.4 3456.4)" fill="#fff"/>
<path d="M223.7,3420.2 L314.6,3367.7" />
<path d="M314.6,3367.7 C316,3367.6 320,3365.9 323.1,3367 C326.2,3368 330.2,3371 333,3374.1 C335.9,3377.1 338.5,3381.2 340.1,3385.4 C341.8,3389.7 342.7,3396.1 343,3399.6 C343.2,3403.2 342.5,3405 341.5,3406.7 C340.6,3408.4 338,3409.1 337.3,3409.5" />
<path d="M337.3,3409.5 L246.4,3464.9" />
<path d="M247.9,3409.5 C250,3411.2 257.3,3415.5 260.6,3419.5 C263.9,3423.5 266.1,3429.2 267.7,3433.7 C269.4,3438.2 270.1,3444.3 270.6,3446.4" />
<path d="M270.6,3396.1 C272.9,3397.8 281.1,3402.6 284.8,3406.7 C288.4,3410.8 290.9,3416.6 292.6,3420.9 C294.2,3425.2 294.3,3430.4 294.7,3432.3" />
<path d="M296.1,3382.6 C298.2,3384.2 305.5,3388.5 308.9,3392.5 C312.3,3396.5 315,3402.4 316.7,3406.7 C318.4,3411 318.5,3416.2 318.8,3418.1" />
<path d="M213.8,3420.9 C215.5,3420.8 220,3418.5 223.7,3420.2 C227.5,3421.8 233,3426.2 236.5,3430.8 C240.1,3435.4 243.1,3442.4 245,3447.9 C246.9,3453.3 248.2,3459.2 247.9,3463.5 C247.5,3467.7 243.7,3471.8 242.9,3473.4" />
<path d="M225.2,3423.7 C227.5,3425.9 235.8,3431.5 239.3,3436.5 C242.9,3441.5 245.3,3450.7 246.4,3453.5" style="stroke-width:4.5"/>
<ellipse cx="195.4" cy="3462.1" rx="29.3" ry="57.4" transform="rotate(-30 195.4 3462.1)" fill="#fff"/>
<ellipse cx="191.9" cy="3467.3" rx="16.8" ry="32" transform="rotate(-30 191.9 3467.3)" />
<ellipse cx="191.4" cy="3467.8" rx="14" ry="28.5" transform="rotate(-30 191.4 3467.8)" />
<path d="M177.6,3452.1 L191.1,3449.3 L202.4,3463.5 L205.3,3481.9 L193.2,3485.5 L180.4,3468.4 L177.6,3452.1" />
<path d="M181.2,3469.2 L196.8,3460.6 L202.4,3463.5" />
<path d="M196.8,3460.6 L191.1,3449.3" />
</g>

<g class="ln">
<path d="M735.5,2235 L735.5,651 L1337,305 M1420,256 L1729,78.5 L2820.5,78.5 L2820.5,1376 M1648,222.5 L1806,133.5 L2188.5,133.5 L2188.5,735 L1851,930.5 L1648.5,930.5 L1648.5,900 M1648.5,222.5 L1648.5,326 M1648.5,389 L1648.5,454 M1648.5,515 L1648.5,844 M2188.5,432.5 L2306,432.5 M2307,491.5 L2725.5,491.5 L2725.5,670.5 L2307.5,670.5 L2307.5,491 M2307,581.5 L2725,581.5 M2416.5,491 L2416.5,670.5 M187.5,1516.5 L605.5,1516.5 L605.5,1696.5 L187.5,1696.5 L187.5,1516.5 M187.5,1606.5 L605,1606.5 M297.5,1516.5 L297.5,1696.5 M616.5,1444.5 L735,1444.5 M967.5,178.5 L967.5,296 M1392.5,447 L1392.5,563 M1124.5,617 L1124.5,733 M1504.5,781 L1504.5,900 M2034.5,509 L2034.5,620 M1009.5,1517.5 L1127,1517.5 M1992,1008.5 L2112,1008.5 M1857,1129.5 L1974.5,1129.5 M2212.5,1401 L2212.5,1518.5 M2363.5,1311 L2363.5,1426 M1167,229 L1227.5,194 L1586,400 L1772,292.5 M1470,583 L1872,352.5 M1089.5,804 L991,861 L1604.5,1217 L1557,1243.5 M1576,916 L1727,830 M1907,1051 L1827,1123.5 M1787,1158.5 L1513,1405.6 M1866,1277 L1973,1217 L2031,1398.5 M1941,1450 L2173,1317 M2820.5,1376 L2820.5,1378.5 L1929,1892.5 M1825,1953.5 L1334,2236.5 L735,2236.5 M1906,2050 L1706.5,2161 L1915,2815 L2117.5,2700 M1922.5,2036 L2224,1864 L2430.5,2517 L2369,2552.5 M2172.5,2665 L2312.5,2590 M2119.5,2737.5 L2119.5,2854.5 L2321.5,2854.5 L2321.5,2625 M2220.5,2854.5 L2220.5,2972.5 M1695,3277.5 L1810,3277.5 M371,3362.5 L767.5,3137.5 M210.5,3512.5 L210.5,3630 M1367.5,1934.5 L1485,1934.5 M1532.5,1920 L1662.5,1847.5 M1170,2041.5 L1290,2041.5 M2541.5,1198.5 L2541.5,1313.5 M1802,1763.5 L1813,1759.5 L1906,2050 M1860.7,1734.2 L1831.5,1747.5 L1922.5,2036"/>
</g>
<text class="t" transform="scale(0.9 1)" x="1001.1 1038.1 1075.1 1112.1 1149.1" y="167.4">92154</text>
<text class="t" transform="scale(0.9 1)" x="1453.9 1490.9 1527.9 1564.9 1601.9 1638.9" y="434.4">49006A</text>
<text class="t" transform="scale(0.9 1)" x="1176.1 1213.1 1250.1 1287.1 1324.1" y="604.4">92153</text>
<text class="t" transform="scale(0.9 1)" x="1597.2 1634.2 1671.2 1708.2 1745.2" y="781.9">49006</text>
<text class="t" transform="scale(0.9 1)" x="2193.9 2230.9 2267.9 2304.9 2341.9" y="672.4">13070</text>
<text class="t" transform="scale(0.9 1)" x="2584.4 2621.4 2658.4 2695.4 2732.4 2769.4 2806.4" y="453.9">43044<tspan style="font-size:74px" dy="10">/</tspan><tspan dy="-10">A</tspan></text>
<text class="t" transform="scale(0.9 1)" x="2605.0 2642.0" y="556.4">LH</text>
<text class="t" transform="scale(0.9 1)" x="2729.4 2766.4 2803.4 2840.4 2877.4 2914.4 2951.4" y="556.4">(43044)</text>
<text class="t" transform="scale(0.9 1)" x="2605.0 2642.0" y="646.4">RH</text>
<text class="t" transform="scale(0.9 1)" x="2729.4 2766.4 2803.4 2840.4 2877.4 2914.4 2951.4 2988.4" y="646.4">(43044A)</text>
<text class="ts" transform="scale(0.9 1)" x="3234.4 3267.3 3300.2 3333.1 3366.0" y="147.9">F2292</text>
<text class="t" transform="scale(0.9 1)" x="440.6 477.6 514.6 551.6 588.6 625.6 662.6" y="1465.4">43080<tspan style="font-size:74px" dy="10">/</tspan><tspan dy="-10">A</tspan></text>
<text class="t" transform="scale(0.9 1)" x="248.3 285.3" y="1583.9">LH</text>
<text class="t" transform="scale(0.9 1)" x="376.1 413.1 450.1 487.1 524.1 561.1 598.1" y="1583.9">(43080)</text>
<text class="t" transform="scale(0.9 1)" x="248.3 285.3" y="1672.4">RH</text>
<text class="t" transform="scale(0.9 1)" x="376.1 413.1 450.1 487.1 524.1 561.1 598.1 635.1" y="1672.4">(43080A)</text>
<text class="t" transform="scale(0.9 1)" x="950.6 987.6 1024.6 1061.6 1098.6" y="1537.2">92145</text>
<text class="t" transform="scale(0.9 1)" x="2370.6 2407.6 2444.6 2481.6 2518.6" y="1028.9">43056</text>
<text class="t" transform="scale(0.9 1)" x="2218.9 2255.9 2292.9 2329.9 2366.9" y="1149.9">43057</text>
<text class="t" transform="scale(0.9 1)" x="2382.8 2419.8 2456.8 2493.8 2530.8" y="1570.9">43049</text>
<text class="t" transform="scale(0.9 1)" x="2533.9 2570.9 2607.9 2644.9 2681.9 2718.9" y="1478.9">43049A</text>
<text class="t" transform="scale(0.9 1)" x="2394.4 2431.4 2468.4 2505.4 2542.4" y="3025.4">43082</text>
<text class="t" transform="scale(0.9 1)" x="141.7 178.7 215.7 252.7 289.7 326.7" y="3683.9">92154A</text>
<text class="t" transform="scale(0.9 1)" x="1350.0 1387.0 1424.0 1461.0 1498.0" y="1954.9">43058</text>
<text class="t" transform="scale(0.9 1)" x="1130.6 1167.6 1204.6 1241.6 1278.6" y="2062.4">92043</text>
<text class="t" transform="scale(0.9 1)" x="2750.6 2787.6 2824.6 2861.6 2898.6" y="1367.4">43048</text>
<text class="t" transform="scale(0.9 1)" x="2033.4 2070.4 2107.4 2144.4 2181.4" y="3300.4">41080</text>
</svg></body></html>
